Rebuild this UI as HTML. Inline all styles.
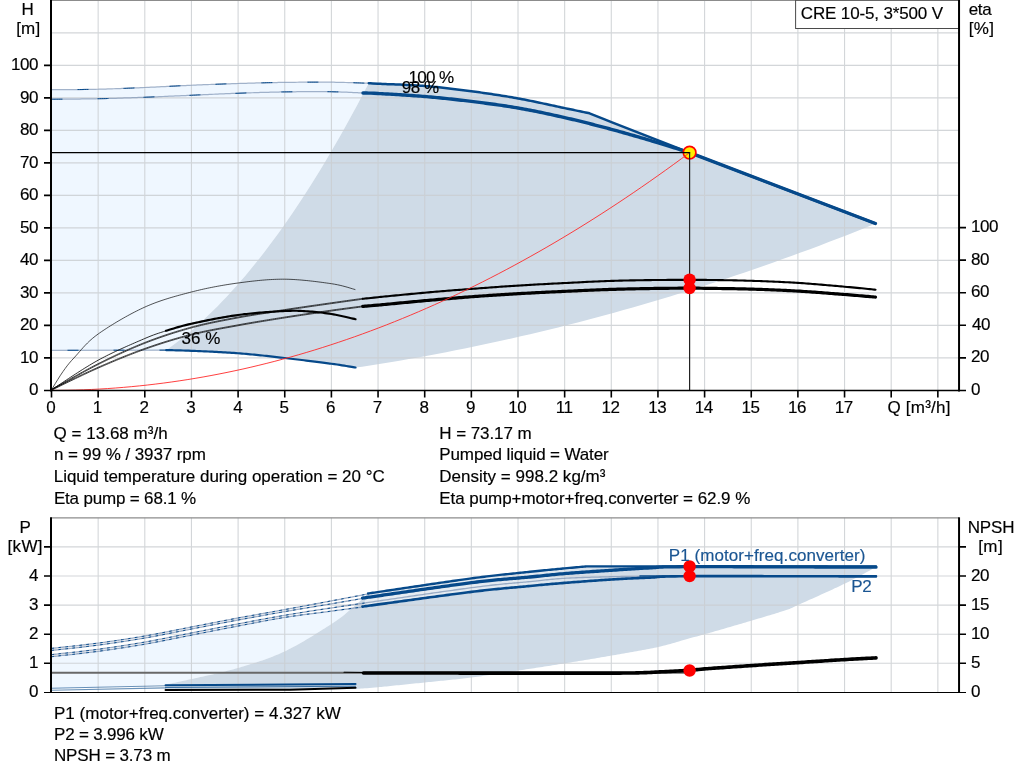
<!DOCTYPE html>
<html lang="en">
<head>
<meta charset="utf-8">
<title>CRE 10-5 pump curve</title>
<style>
html,body{margin:0;padding:0;background:#fff;}
body{width:1024px;height:781px;overflow:hidden;}
svg{display:block;}
text{white-space:pre;}
</style>
</head>
<body>
<svg width="1024" height="781" viewBox="0 0 1024 781" font-family='"Liberation Sans", Arial, sans-serif' font-size="17" fill="#000">
<style>text{stroke:#000;stroke-width:0.22px;stroke-opacity:0.75;paint-order:stroke} text[fill]{stroke:#1a5592}</style>
<rect width="1024" height="781" fill="#fff"/>
<path d="M51.50 350.20 L51.50 89.75 L52.58 89.74 L53.83 89.73 L55.22 89.72 L56.75 89.71 L58.41 89.70 L60.19 89.69 L62.07 89.67 L64.05 89.66 L66.10 89.65 L68.24 89.63 L70.43 89.62 L72.67 89.60 L74.95 89.58 L77.26 89.56 L79.59 89.54 L81.92 89.51 L84.25 89.48 L86.56 89.45 L88.85 89.42 L91.10 89.38 L93.29 89.34 L95.43 89.30 L97.50 89.25 L99.53 89.20 L101.57 89.14 L103.61 89.09 L105.66 89.03 L107.71 88.96 L109.76 88.90 L111.82 88.83 L113.88 88.75 L115.94 88.68 L118.01 88.60 L120.08 88.52 L122.14 88.44 L124.21 88.36 L126.28 88.28 L128.34 88.19 L130.41 88.11 L132.47 88.02 L134.54 87.94 L136.60 87.85 L138.65 87.76 L140.71 87.67 L142.76 87.59 L144.80 87.50 L146.84 87.41 L148.88 87.32 L150.92 87.23 L152.95 87.13 L154.99 87.03 L157.02 86.94 L159.05 86.84 L161.08 86.73 L163.11 86.63 L165.13 86.53 L167.16 86.43 L169.18 86.32 L171.21 86.22 L173.23 86.12 L175.26 86.02 L177.28 85.91 L179.30 85.81 L181.33 85.72 L183.35 85.62 L185.37 85.52 L187.40 85.43 L189.42 85.34 L191.45 85.25 L193.48 85.16 L195.50 85.08 L197.53 84.99 L199.55 84.91 L201.57 84.82 L203.60 84.74 L205.62 84.66 L207.64 84.58 L209.67 84.50 L211.69 84.42 L213.71 84.34 L215.73 84.26 L217.76 84.19 L219.78 84.11 L221.80 84.04 L223.82 83.97 L225.85 83.90 L227.87 83.83 L229.90 83.76 L231.92 83.69 L233.95 83.63 L235.97 83.56 L238.00 83.50 L240.03 83.44 L242.06 83.38 L244.08 83.32 L246.11 83.26 L248.14 83.20 L250.17 83.14 L252.20 83.09 L254.23 83.03 L256.26 82.98 L258.29 82.93 L260.33 82.88 L262.36 82.83 L264.39 82.78 L266.42 82.73 L268.45 82.69 L270.48 82.65 L272.51 82.61 L274.55 82.57 L276.58 82.53 L278.61 82.49 L280.64 82.46 L282.67 82.43 L284.70 82.40 L286.74 82.37 L288.79 82.35 L290.86 82.32 L292.94 82.30 L295.03 82.27 L297.12 82.25 L299.21 82.23 L301.31 82.21 L303.41 82.20 L305.50 82.18 L307.59 82.17 L309.67 82.16 L311.75 82.15 L313.80 82.15 L315.85 82.14 L317.88 82.14 L319.88 82.14 L321.87 82.14 L323.83 82.15 L325.77 82.16 L327.68 82.17 L329.56 82.18 L331.40 82.20 L333.76 82.23 L336.17 82.27 L338.60 82.31 L341.05 82.37 L343.49 82.43 L345.93 82.50 L348.33 82.57 L350.69 82.64 L352.99 82.71 L355.22 82.79 L357.37 82.86 L359.41 82.93 L361.34 83.00 L363.14 83.06 L364.79 83.12 L366.29 83.17 L367.61 83.22 L368.75 83.25 L368.75 83.25 L366.85 86.68 L362.19 95.60 L357.52 104.39 L352.86 113.04 L348.19 121.56 L343.53 129.95 L338.86 138.20 L334.20 146.33 L329.53 154.31 L324.87 162.17 L320.20 169.89 L315.54 177.48 L310.87 184.94 L306.21 192.26 L301.54 199.46 L296.88 206.51 L292.21 213.44 L287.55 220.23 L282.88 226.89 L278.22 233.42 L273.55 239.81 L268.89 246.07 L264.22 252.20 L259.56 258.20 L254.89 264.06 L250.23 269.79 L245.56 275.38 L240.90 280.85 L236.23 286.18 L231.57 291.37 L226.90 296.44 L222.24 301.37 L217.57 306.17 L212.91 310.83 L208.24 315.37 L203.58 319.77 L198.91 324.03 L194.25 328.17 L189.58 332.17 L184.92 336.04 L180.25 339.77 L175.59 343.37 L170.92 346.84 L166.26 350.18 Z" fill="#eff7ff"/>
<path d="M166.26 350.18 L170.92 346.84 L175.59 343.37 L180.25 339.77 L184.92 336.04 L189.58 332.17 L194.25 328.17 L198.91 324.03 L203.58 319.77 L208.24 315.37 L212.91 310.83 L217.57 306.17 L222.24 301.37 L226.90 296.44 L231.57 291.37 L236.23 286.18 L240.90 280.85 L245.56 275.38 L250.23 269.79 L254.89 264.06 L259.56 258.20 L264.22 252.20 L268.89 246.07 L273.55 239.81 L278.22 233.42 L282.88 226.89 L287.55 220.23 L292.21 213.44 L296.88 206.51 L301.54 199.46 L306.21 192.26 L310.87 184.94 L315.54 177.48 L320.20 169.89 L324.87 162.17 L329.53 154.31 L334.20 146.33 L338.86 138.20 L343.53 129.95 L348.19 121.56 L352.86 113.04 L357.52 104.39 L362.19 95.60 L366.85 86.68 L368.75 83.25 L369.53 83.30 L370.46 83.36 L372.84 83.49 L378.00 83.75 L379.29 83.81 L380.70 83.87 L382.24 83.93 L383.90 84.00 L385.66 84.07 L387.52 84.14 L389.46 84.21 L391.48 84.28 L393.56 84.36 L395.71 84.45 L397.90 84.53 L400.13 84.62 L402.40 84.72 L404.68 84.82 L406.98 84.93 L409.28 85.04 L411.58 85.16 L413.86 85.28 L416.11 85.41 L418.33 85.55 L420.51 85.69 L422.64 85.84 L424.70 86.00 L426.73 86.17 L428.76 86.34 L430.79 86.52 L432.82 86.71 L434.84 86.91 L436.87 87.11 L438.90 87.32 L440.93 87.53 L442.96 87.75 L444.99 87.97 L447.01 88.20 L449.04 88.44 L451.07 88.68 L453.10 88.92 L455.13 89.17 L457.15 89.42 L459.18 89.67 L461.21 89.93 L463.24 90.19 L465.27 90.45 L467.29 90.71 L469.32 90.98 L471.35 91.25 L473.38 91.52 L475.41 91.79 L477.43 92.07 L479.46 92.35 L481.49 92.63 L483.52 92.92 L485.55 93.20 L487.58 93.50 L489.60 93.79 L491.63 94.09 L493.66 94.39 L495.69 94.70 L497.72 95.01 L499.75 95.33 L501.77 95.65 L503.80 95.97 L505.83 96.31 L507.86 96.64 L509.89 96.98 L511.92 97.33 L513.94 97.68 L515.97 98.04 L518.00 98.40 L520.05 98.78 L522.13 99.17 L524.25 99.57 L526.39 99.99 L528.54 100.42 L530.72 100.86 L532.90 101.31 L535.09 101.76 L537.27 102.22 L539.45 102.68 L541.61 103.14 L543.76 103.60 L545.88 104.06 L547.98 104.51 L550.04 104.96 L552.06 105.40 L554.03 105.83 L555.96 106.24 L557.83 106.65 L559.64 107.04 L561.38 107.41 L563.06 107.77 L564.65 108.10 L567.56 108.71 L570.34 109.29 L572.98 109.84 L575.47 110.36 L577.81 110.85 L579.99 111.31 L582.01 111.73 L583.86 112.12 L585.55 112.47 L587.05 112.79 L588.37 113.06 L589.50 113.30 L604.00 119.10 L611.40 122.10 L657.50 140.10 L689.60 152.70 L875.40 223.50 L875.34 223.76 L866.01 227.52 L856.68 231.23 L847.35 234.90 L838.02 238.52 L828.69 242.10 L819.36 245.64 L810.03 249.14 L800.70 252.59 L791.37 256.00 L782.04 259.37 L772.71 262.70 L763.38 265.98 L754.05 269.22 L744.72 272.42 L735.39 275.57 L726.06 278.68 L716.73 281.75 L707.40 284.78 L698.07 287.76 L688.74 290.70 L679.41 293.60 L670.08 296.46 L660.75 299.27 L651.42 302.04 L642.09 304.76 L632.76 307.45 L623.43 310.09 L614.10 312.69 L604.77 315.25 L595.44 317.76 L586.11 320.23 L576.78 322.66 L567.45 325.04 L558.12 327.38 L548.79 329.68 L539.46 331.94 L530.13 334.16 L520.80 336.33 L511.47 338.46 L502.14 340.54 L492.81 342.58 L483.48 344.59 L474.15 346.54 L464.82 348.46 L455.49 350.33 L446.16 352.16 L436.83 353.95 L427.50 355.69 L418.17 357.39 L408.84 359.05 L399.51 360.67 L390.18 362.24 L380.85 363.77 L371.52 365.26 L362.19 366.70 L355.50 367.50 L355.50 367.50 L354.41 367.33 L353.14 367.12 L351.70 366.87 L350.09 366.60 L348.31 366.30 L346.37 365.98 L344.26 365.64 L342.00 365.29 L339.58 364.92 L337.00 364.53 L334.28 364.14 L331.40 363.75 L329.82 363.54 L328.16 363.32 L326.42 363.09 L324.62 362.86 L322.75 362.61 L320.83 362.37 L318.85 362.12 L316.83 361.86 L314.76 361.60 L312.67 361.34 L310.54 361.07 L308.38 360.80 L306.21 360.54 L304.03 360.27 L301.84 360.00 L299.64 359.74 L297.45 359.48 L295.27 359.22 L293.10 358.97 L290.96 358.72 L288.84 358.47 L286.75 358.23 L284.70 358.00 L282.67 357.77 L280.64 357.54 L278.61 357.31 L276.58 357.09 L274.55 356.86 L272.51 356.63 L270.48 356.41 L268.45 356.18 L266.42 355.96 L264.39 355.74 L262.36 355.53 L260.33 355.31 L258.29 355.10 L256.26 354.90 L254.23 354.69 L252.20 354.49 L250.17 354.30 L248.14 354.11 L246.11 353.93 L244.08 353.75 L242.06 353.58 L240.03 353.41 L238.00 353.25 L235.95 353.10 L233.87 352.95 L231.76 352.80 L229.63 352.67 L227.48 352.53 L225.31 352.40 L223.13 352.28 L220.96 352.16 L218.78 352.04 L216.61 351.93 L214.45 351.82 L212.31 351.72 L210.20 351.62 L208.11 351.52 L206.06 351.43 L204.04 351.34 L202.07 351.26 L200.15 351.17 L198.28 351.09 L196.47 351.02 L194.72 350.94 L193.05 350.87 L191.45 350.80 L188.52 350.68 L185.72 350.57 L183.06 350.49 L180.54 350.41 L178.16 350.35 L175.94 350.30 L173.88 350.25 L171.99 350.22 L170.28 350.18 L168.74 350.16 L167.40 350.13 L166.25 350.10 Z" fill="#cfdbe7" fill-opacity="1.0"/>
<path d="M98.15 0.50V390.40M144.80 0.50V390.40M191.45 0.50V390.40M238.10 0.50V390.40M284.75 0.50V390.40M331.40 0.50V390.40M378.05 0.50V390.40M424.70 0.50V390.40M471.35 0.50V390.40M518.00 0.50V390.40M564.65 0.50V390.40M611.30 0.50V390.40M657.95 0.50V390.40M704.60 0.50V390.40M751.25 0.50V390.40M797.90 0.50V390.40M844.55 0.50V390.40M891.20 0.50V390.40M937.85 0.50V390.40M51.50 357.90H959.00M51.50 325.40H959.00M51.50 292.90H959.00M51.50 260.40H959.00M51.50 227.90H959.00M51.50 195.40H959.00M51.50 162.90H959.00M51.50 130.40H959.00M51.50 97.90H959.00M51.50 65.40H959.00M51.50 32.90H959.00" stroke="#c9cdd1" stroke-opacity="0.82" stroke-width="1.1" fill="none"/>
<path d="M51.50 0.4H959.00" stroke="#8c8c8c" stroke-width="1.2"/>
<g fill="none" stroke="#06498a" stroke-linecap="round" stroke-linejoin="round">
<path d="M51.50 89.75 L52.58 89.74 L53.83 89.73 L55.22 89.72 L56.75 89.71 L58.41 89.70 L60.19 89.69 L62.07 89.67 L64.05 89.66 L66.10 89.65 L68.24 89.63 L70.43 89.62 L72.67 89.60 L74.95 89.58 L77.26 89.56 L79.59 89.54 L81.92 89.51 L84.25 89.48 L86.56 89.45 L88.85 89.42 L91.10 89.38 L93.29 89.34 L95.43 89.30 L97.50 89.25 L99.53 89.20 L101.57 89.14 L103.61 89.09 L105.66 89.03 L107.71 88.96 L109.76 88.90 L111.82 88.83 L113.88 88.75 L115.94 88.68 L118.01 88.60 L120.08 88.52 L122.14 88.44 L124.21 88.36 L126.28 88.28 L128.34 88.19 L130.41 88.11 L132.47 88.02 L134.54 87.94 L136.60 87.85 L138.65 87.76 L140.71 87.67 L142.76 87.59 L144.80 87.50 L146.84 87.41 L148.88 87.32 L150.92 87.23 L152.95 87.13 L154.99 87.03 L157.02 86.94 L159.05 86.84 L161.08 86.73 L163.11 86.63 L165.13 86.53 L167.16 86.43 L169.18 86.32 L171.21 86.22 L173.23 86.12 L175.26 86.02 L177.28 85.91 L179.30 85.81 L181.33 85.72 L183.35 85.62 L185.37 85.52 L187.40 85.43 L189.42 85.34 L191.45 85.25 L193.48 85.16 L195.50 85.08 L197.53 84.99 L199.55 84.91 L201.57 84.82 L203.60 84.74 L205.62 84.66 L207.64 84.58 L209.67 84.50 L211.69 84.42 L213.71 84.34 L215.73 84.26 L217.76 84.19 L219.78 84.11 L221.80 84.04 L223.82 83.97 L225.85 83.90 L227.87 83.83 L229.90 83.76 L231.92 83.69 L233.95 83.63 L235.97 83.56 L238.00 83.50 L240.03 83.44 L242.06 83.38 L244.08 83.32 L246.11 83.26 L248.14 83.20 L250.17 83.14 L252.20 83.09 L254.23 83.03 L256.26 82.98 L258.29 82.93 L260.33 82.88 L262.36 82.83 L264.39 82.78 L266.42 82.73 L268.45 82.69 L270.48 82.65 L272.51 82.61 L274.55 82.57 L276.58 82.53 L278.61 82.49 L280.64 82.46 L282.67 82.43 L284.70 82.40 L286.74 82.37 L288.79 82.35 L290.86 82.32 L292.94 82.30 L295.03 82.27 L297.12 82.25 L299.21 82.23 L301.31 82.21 L303.41 82.20 L305.50 82.18 L307.59 82.17 L309.67 82.16 L311.75 82.15 L313.80 82.15 L315.85 82.14 L317.88 82.14 L319.88 82.14 L321.87 82.14 L323.83 82.15 L325.77 82.16 L327.68 82.17 L329.56 82.18 L331.40 82.20 L333.76 82.23 L336.17 82.27 L338.60 82.31 L341.05 82.37 L343.49 82.43 L345.93 82.50 L348.33 82.57 L350.69 82.64 L352.99 82.71 L355.22 82.79 L357.37 82.86 L359.41 82.93 L361.34 83.00 L363.14 83.06 L364.79 83.12 L366.29 83.17 L367.61 83.22 L368.75 83.25" stroke-width="1.25" stroke="#7f95b5" stroke-opacity="0.72"/>
<path d="M51.50 89.75 L52.58 89.74 L53.83 89.73 L55.22 89.72 L56.75 89.71 L58.41 89.70 L60.19 89.69 L62.07 89.67 L64.05 89.66 L66.10 89.65 L68.24 89.63 L70.43 89.62 L72.67 89.60 L74.95 89.58 L77.26 89.56 L79.59 89.54 L81.92 89.51 L84.25 89.48 L86.56 89.45 L88.85 89.42 L91.10 89.38 L93.29 89.34 L95.43 89.30 L97.50 89.25 L99.53 89.20 L101.57 89.14 L103.61 89.09 L105.66 89.03 L107.71 88.96 L109.76 88.90 L111.82 88.83 L113.88 88.75 L115.94 88.68 L118.01 88.60 L120.08 88.52 L122.14 88.44 L124.21 88.36 L126.28 88.28 L128.34 88.19 L130.41 88.11 L132.47 88.02 L134.54 87.94 L136.60 87.85 L138.65 87.76 L140.71 87.67 L142.76 87.59 L144.80 87.50 L146.84 87.41 L148.88 87.32 L150.92 87.23 L152.95 87.13 L154.99 87.03 L157.02 86.94 L159.05 86.84 L161.08 86.73 L163.11 86.63 L165.13 86.53 L167.16 86.43 L169.18 86.32 L171.21 86.22 L173.23 86.12 L175.26 86.02 L177.28 85.91 L179.30 85.81 L181.33 85.72 L183.35 85.62 L185.37 85.52 L187.40 85.43 L189.42 85.34 L191.45 85.25 L193.48 85.16 L195.50 85.08 L197.53 84.99 L199.55 84.91 L201.57 84.82 L203.60 84.74 L205.62 84.66 L207.64 84.58 L209.67 84.50 L211.69 84.42 L213.71 84.34 L215.73 84.26 L217.76 84.19 L219.78 84.11 L221.80 84.04 L223.82 83.97 L225.85 83.90 L227.87 83.83 L229.90 83.76 L231.92 83.69 L233.95 83.63 L235.97 83.56 L238.00 83.50 L240.03 83.44 L242.06 83.38 L244.08 83.32 L246.11 83.26 L248.14 83.20 L250.17 83.14 L252.20 83.09 L254.23 83.03 L256.26 82.98 L258.29 82.93 L260.33 82.88 L262.36 82.83 L264.39 82.78 L266.42 82.73 L268.45 82.69 L270.48 82.65 L272.51 82.61 L274.55 82.57 L276.58 82.53 L278.61 82.49 L280.64 82.46 L282.67 82.43 L284.70 82.40 L286.74 82.37 L288.79 82.35 L290.86 82.32 L292.94 82.30 L295.03 82.27 L297.12 82.25 L299.21 82.23 L301.31 82.21 L303.41 82.20 L305.50 82.18 L307.59 82.17 L309.67 82.16 L311.75 82.15 L313.80 82.15 L315.85 82.14 L317.88 82.14 L319.88 82.14 L321.87 82.14 L323.83 82.15 L325.77 82.16 L327.68 82.17 L329.56 82.18 L331.40 82.20 L333.76 82.23 L336.17 82.27 L338.60 82.31 L341.05 82.37 L343.49 82.43 L345.93 82.50 L348.33 82.57 L350.69 82.64 L352.99 82.71 L355.22 82.79 L357.37 82.86 L359.41 82.93 L361.34 83.00 L363.14 83.06 L364.79 83.12 L366.29 83.17 L367.61 83.22 L368.75 83.25" stroke-width="1" stroke-dasharray="11 35" stroke-dashoffset="20" stroke-linecap="butt"/>
<path d="M51.50 99.25 L52.58 99.24 L53.83 99.23 L55.22 99.22 L56.75 99.21 L58.41 99.19 L60.19 99.18 L62.07 99.17 L64.05 99.15 L66.10 99.14 L68.24 99.12 L70.43 99.10 L72.67 99.08 L74.95 99.06 L77.26 99.04 L79.59 99.02 L81.92 98.99 L84.25 98.96 L86.56 98.93 L88.85 98.90 L91.10 98.87 L93.29 98.83 L95.43 98.79 L97.50 98.75 L99.53 98.71 L101.57 98.66 L103.61 98.61 L105.66 98.55 L107.71 98.50 L109.76 98.44 L111.82 98.38 L113.88 98.32 L115.94 98.26 L118.01 98.19 L120.08 98.13 L122.14 98.06 L124.21 97.99 L126.28 97.92 L128.34 97.85 L130.41 97.78 L132.47 97.70 L134.54 97.63 L136.60 97.55 L138.65 97.48 L140.71 97.40 L142.76 97.33 L144.80 97.25 L146.84 97.17 L148.88 97.09 L150.92 97.01 L152.95 96.93 L154.99 96.85 L157.02 96.76 L159.05 96.68 L161.08 96.59 L163.11 96.50 L165.13 96.42 L167.16 96.33 L169.18 96.24 L171.21 96.15 L173.23 96.06 L175.26 95.97 L177.28 95.87 L179.30 95.78 L181.33 95.69 L183.35 95.60 L185.37 95.51 L187.40 95.43 L189.42 95.34 L191.45 95.25 L193.48 95.16 L195.50 95.07 L197.53 94.98 L199.55 94.89 L201.57 94.80 L203.60 94.71 L205.62 94.62 L207.64 94.53 L209.67 94.44 L211.69 94.35 L213.71 94.25 L215.73 94.16 L217.76 94.07 L219.78 93.99 L221.80 93.90 L223.82 93.81 L225.85 93.73 L227.87 93.64 L229.90 93.56 L231.92 93.48 L233.95 93.40 L235.97 93.32 L238.00 93.25 L240.03 93.18 L242.06 93.10 L244.08 93.03 L246.11 92.96 L248.14 92.89 L250.17 92.82 L252.20 92.75 L254.23 92.69 L256.26 92.62 L258.29 92.55 L260.33 92.49 L262.36 92.43 L264.39 92.37 L266.42 92.31 L268.45 92.26 L270.48 92.20 L272.51 92.15 L274.55 92.10 L276.58 92.06 L278.61 92.01 L280.64 91.97 L282.67 91.93 L284.70 91.90 L286.74 91.87 L288.81 91.84 L290.90 91.81 L293.01 91.79 L295.13 91.76 L297.26 91.74 L299.40 91.72 L301.54 91.70 L303.68 91.69 L305.81 91.68 L307.94 91.67 L310.05 91.66 L312.14 91.65 L314.22 91.65 L316.27 91.65 L318.30 91.65 L320.29 91.66 L322.25 91.67 L324.17 91.68 L326.05 91.69 L327.89 91.71 L329.67 91.73 L331.40 91.75 L334.01 91.80 L336.61 91.86 L339.19 91.93 L341.73 92.02 L344.22 92.11 L346.64 92.21 L348.98 92.31 L351.23 92.42 L353.36 92.52 L355.37 92.62 L357.23 92.72 L358.94 92.81 L360.49 92.89 L361.84 92.95 L363.00 93.00" stroke-width="1.25" stroke="#7f95b5" stroke-opacity="0.72"/>
<path d="M51.50 99.25 L52.58 99.24 L53.83 99.23 L55.22 99.22 L56.75 99.21 L58.41 99.19 L60.19 99.18 L62.07 99.17 L64.05 99.15 L66.10 99.14 L68.24 99.12 L70.43 99.10 L72.67 99.08 L74.95 99.06 L77.26 99.04 L79.59 99.02 L81.92 98.99 L84.25 98.96 L86.56 98.93 L88.85 98.90 L91.10 98.87 L93.29 98.83 L95.43 98.79 L97.50 98.75 L99.53 98.71 L101.57 98.66 L103.61 98.61 L105.66 98.55 L107.71 98.50 L109.76 98.44 L111.82 98.38 L113.88 98.32 L115.94 98.26 L118.01 98.19 L120.08 98.13 L122.14 98.06 L124.21 97.99 L126.28 97.92 L128.34 97.85 L130.41 97.78 L132.47 97.70 L134.54 97.63 L136.60 97.55 L138.65 97.48 L140.71 97.40 L142.76 97.33 L144.80 97.25 L146.84 97.17 L148.88 97.09 L150.92 97.01 L152.95 96.93 L154.99 96.85 L157.02 96.76 L159.05 96.68 L161.08 96.59 L163.11 96.50 L165.13 96.42 L167.16 96.33 L169.18 96.24 L171.21 96.15 L173.23 96.06 L175.26 95.97 L177.28 95.87 L179.30 95.78 L181.33 95.69 L183.35 95.60 L185.37 95.51 L187.40 95.43 L189.42 95.34 L191.45 95.25 L193.48 95.16 L195.50 95.07 L197.53 94.98 L199.55 94.89 L201.57 94.80 L203.60 94.71 L205.62 94.62 L207.64 94.53 L209.67 94.44 L211.69 94.35 L213.71 94.25 L215.73 94.16 L217.76 94.07 L219.78 93.99 L221.80 93.90 L223.82 93.81 L225.85 93.73 L227.87 93.64 L229.90 93.56 L231.92 93.48 L233.95 93.40 L235.97 93.32 L238.00 93.25 L240.03 93.18 L242.06 93.10 L244.08 93.03 L246.11 92.96 L248.14 92.89 L250.17 92.82 L252.20 92.75 L254.23 92.69 L256.26 92.62 L258.29 92.55 L260.33 92.49 L262.36 92.43 L264.39 92.37 L266.42 92.31 L268.45 92.26 L270.48 92.20 L272.51 92.15 L274.55 92.10 L276.58 92.06 L278.61 92.01 L280.64 91.97 L282.67 91.93 L284.70 91.90 L286.74 91.87 L288.81 91.84 L290.90 91.81 L293.01 91.79 L295.13 91.76 L297.26 91.74 L299.40 91.72 L301.54 91.70 L303.68 91.69 L305.81 91.68 L307.94 91.67 L310.05 91.66 L312.14 91.65 L314.22 91.65 L316.27 91.65 L318.30 91.65 L320.29 91.66 L322.25 91.67 L324.17 91.68 L326.05 91.69 L327.89 91.71 L329.67 91.73 L331.40 91.75 L334.01 91.80 L336.61 91.86 L339.19 91.93 L341.73 92.02 L344.22 92.11 L346.64 92.21 L348.98 92.31 L351.23 92.42 L353.36 92.52 L355.37 92.62 L357.23 92.72 L358.94 92.81 L360.49 92.89 L361.84 92.95 L363.00 93.00" stroke-width="1" stroke-dasharray="11 35" stroke-dashoffset="0" stroke-linecap="butt"/>
<path d="M51.50 350.30 L166.25 350.10" stroke-width="1.25" stroke="#7f95b5" stroke-opacity="0.72"/>
<path d="M51.50 350.30 L166.25 350.10" stroke-width="1" stroke-dasharray="11 35" stroke-dashoffset="30" stroke-linecap="butt"/>
<path d="M368.75 83.25 L369.53 83.30 L370.46 83.36 L372.84 83.49 L378.00 83.75 L379.29 83.81 L380.70 83.87 L382.24 83.93 L383.90 84.00 L385.66 84.07 L387.52 84.14 L389.46 84.21 L391.48 84.28 L393.56 84.36 L395.71 84.45 L397.90 84.53 L400.13 84.62 L402.40 84.72 L404.68 84.82 L406.98 84.93 L409.28 85.04 L411.58 85.16 L413.86 85.28 L416.11 85.41 L418.33 85.55 L420.51 85.69 L422.64 85.84 L424.70 86.00 L426.73 86.17 L428.76 86.34 L430.79 86.52 L432.82 86.71 L434.84 86.91 L436.87 87.11 L438.90 87.32 L440.93 87.53 L442.96 87.75 L444.99 87.97 L447.01 88.20 L449.04 88.44 L451.07 88.68 L453.10 88.92 L455.13 89.17 L457.15 89.42 L459.18 89.67 L461.21 89.93 L463.24 90.19 L465.27 90.45 L467.29 90.71 L469.32 90.98 L471.35 91.25 L473.38 91.52 L475.41 91.79 L477.43 92.07 L479.46 92.35 L481.49 92.63 L483.52 92.92 L485.55 93.20 L487.58 93.50 L489.60 93.79 L491.63 94.09 L493.66 94.39 L495.69 94.70 L497.72 95.01 L499.75 95.33 L501.77 95.65 L503.80 95.97 L505.83 96.31 L507.86 96.64 L509.89 96.98 L511.92 97.33 L513.94 97.68 L515.97 98.04 L518.00 98.40 L520.05 98.78 L522.13 99.17 L524.25 99.57 L526.39 99.99 L528.54 100.42 L530.72 100.86 L532.90 101.31 L535.09 101.76 L537.27 102.22 L539.45 102.68 L541.61 103.14 L543.76 103.60 L545.88 104.06 L547.98 104.51 L550.04 104.96 L552.06 105.40 L554.03 105.83 L555.96 106.24 L557.83 106.65 L559.64 107.04 L561.38 107.41 L563.06 107.77 L564.65 108.10 L567.56 108.71 L570.34 109.29 L572.98 109.84 L575.47 110.36 L577.81 110.85 L579.99 111.31 L582.01 111.73 L583.86 112.12 L585.55 112.47 L587.05 112.79 L588.37 113.06 L589.50 113.30 L604.00 119.10 L611.40 122.10 L657.50 140.10 L689.60 152.70 L875.40 223.50" stroke-width="2.5"/>
<path d="M363.00 93.00 L364.08 93.02 L365.27 93.03 L366.72 93.05 L368.57 93.08 L370.97 93.16 L374.06 93.29 L378.00 93.50 L379.40 93.58 L380.91 93.66 L382.53 93.75 L384.24 93.85 L386.04 93.95 L387.92 94.06 L389.88 94.17 L391.90 94.28 L393.98 94.40 L396.11 94.53 L398.27 94.66 L400.48 94.79 L402.71 94.93 L404.95 95.07 L407.21 95.22 L409.47 95.37 L411.72 95.52 L413.96 95.68 L416.19 95.83 L418.38 96.00 L420.53 96.16 L422.64 96.33 L424.70 96.50 L426.73 96.67 L428.76 96.85 L430.79 97.03 L432.82 97.22 L434.84 97.41 L436.87 97.60 L438.90 97.80 L440.93 98.00 L442.96 98.20 L444.99 98.41 L447.01 98.62 L449.04 98.83 L451.07 99.05 L453.10 99.27 L455.13 99.49 L457.15 99.72 L459.18 99.95 L461.21 100.19 L463.24 100.42 L465.27 100.66 L467.29 100.91 L469.32 101.15 L471.35 101.40 L473.38 101.65 L475.41 101.90 L477.43 102.15 L479.46 102.41 L481.49 102.67 L483.52 102.93 L485.55 103.19 L487.58 103.45 L489.60 103.72 L491.63 103.99 L493.66 104.27 L495.69 104.55 L497.72 104.83 L499.75 105.12 L501.77 105.42 L503.80 105.72 L505.83 106.02 L507.86 106.33 L509.89 106.65 L511.92 106.98 L513.94 107.31 L515.97 107.65 L518.00 108.00 L520.03 108.36 L522.06 108.72 L524.09 109.09 L526.11 109.47 L528.14 109.85 L530.17 110.24 L532.20 110.63 L534.23 111.03 L536.26 111.44 L538.29 111.85 L540.31 112.27 L542.34 112.69 L544.37 113.12 L546.40 113.55 L548.43 113.99 L550.46 114.43 L552.48 114.87 L554.51 115.32 L556.54 115.77 L558.57 116.22 L560.60 116.68 L562.62 117.14 L564.65 117.60 L566.68 118.07 L568.71 118.54 L570.73 119.01 L572.76 119.49 L574.79 119.97 L576.82 120.46 L578.85 120.95 L580.88 121.45 L582.90 121.95 L584.93 122.46 L586.96 122.96 L588.99 123.47 L591.02 123.99 L593.04 124.51 L595.07 125.03 L597.09 125.55 L599.12 126.08 L601.14 126.61 L603.17 127.14 L605.19 127.68 L607.21 128.22 L609.23 128.76 L611.25 129.30 L613.28 129.85 L615.33 130.41 L617.40 130.98 L619.49 131.56 L621.59 132.14 L623.70 132.74 L625.81 133.33 L627.92 133.93 L630.03 134.54 L632.14 135.14 L634.24 135.75 L636.32 136.35 L638.39 136.95 L640.44 137.55 L642.47 138.15 L644.48 138.74 L646.45 139.32 L648.39 139.89 L650.30 140.46 L652.17 141.01 L653.99 141.55 L655.77 142.08 L657.50 142.60 L659.95 143.34 L662.41 144.08 L664.85 144.84 L667.27 145.59 L669.65 146.33 L671.98 147.07 L674.25 147.78 L676.44 148.48 L678.54 149.15 L680.54 149.79 L682.41 150.40 L684.16 150.96 L685.77 151.48 L687.22 151.94 L688.50 152.35 L689.60 152.70 L875.40 223.50" stroke-width="3.4"/>
<path d="M166.25 350.10 L167.40 350.13 L168.74 350.16 L170.28 350.18 L171.99 350.22 L173.88 350.25 L175.94 350.30 L178.16 350.35 L180.54 350.41 L183.06 350.49 L185.72 350.57 L188.52 350.68 L191.45 350.80 L193.05 350.87 L194.72 350.94 L196.47 351.02 L198.28 351.09 L200.15 351.17 L202.07 351.26 L204.04 351.34 L206.06 351.43 L208.11 351.52 L210.20 351.62 L212.31 351.72 L214.45 351.82 L216.61 351.93 L218.78 352.04 L220.96 352.16 L223.13 352.28 L225.31 352.40 L227.48 352.53 L229.63 352.67 L231.76 352.80 L233.87 352.95 L235.95 353.10 L238.00 353.25 L240.03 353.41 L242.06 353.58 L244.08 353.75 L246.11 353.93 L248.14 354.11 L250.17 354.30 L252.20 354.49 L254.23 354.69 L256.26 354.90 L258.29 355.10 L260.33 355.31 L262.36 355.53 L264.39 355.74 L266.42 355.96 L268.45 356.18 L270.48 356.41 L272.51 356.63 L274.55 356.86 L276.58 357.09 L278.61 357.31 L280.64 357.54 L282.67 357.77 L284.70 358.00 L286.75 358.23 L288.84 358.47 L290.96 358.72 L293.10 358.97 L295.27 359.22 L297.45 359.48 L299.64 359.74 L301.84 360.00 L304.03 360.27 L306.21 360.54 L308.38 360.80 L310.54 361.07 L312.67 361.34 L314.76 361.60 L316.83 361.86 L318.85 362.12 L320.83 362.37 L322.75 362.61 L324.62 362.86 L326.42 363.09 L328.16 363.32 L329.82 363.54 L331.40 363.75 L334.28 364.14 L337.00 364.53 L339.58 364.92 L342.00 365.29 L344.26 365.64 L346.37 365.98 L348.31 366.30 L350.09 366.60 L351.70 366.87 L353.14 367.12 L354.41 367.33 L355.50 367.50" stroke-width="2.2"/>
</g>
<g fill="none" stroke="#000" stroke-linecap="round" stroke-linejoin="round">
<path d="M51.50 389.80 L53.06 387.25 L55.26 383.62 L57.83 379.42 L60.50 375.21 L63.00 371.50 L65.16 368.49 L67.14 365.83 L69.23 363.23 L71.70 360.38 L74.80 357.00 L76.40 355.24 L78.03 353.39 L79.70 351.45 L81.46 349.43 L83.32 347.34 L85.31 345.20 L87.46 343.01 L89.79 340.78 L92.33 338.53 L95.11 336.27 L98.15 334.00 L99.71 332.90 L101.36 331.76 L103.09 330.60 L104.88 329.41 L106.74 328.19 L108.66 326.96 L110.63 325.72 L112.65 324.47 L114.72 323.21 L116.81 321.94 L118.94 320.68 L121.10 319.43 L123.27 318.18 L125.46 316.95 L127.65 315.74 L129.85 314.54 L132.04 313.37 L134.23 312.23 L136.40 311.13 L138.54 310.06 L140.66 309.02 L142.75 308.04 L144.80 307.10 L146.83 306.20 L148.86 305.34 L150.89 304.50 L152.91 303.70 L154.94 302.92 L156.97 302.17 L159.00 301.44 L161.03 300.73 L163.06 300.05 L165.09 299.39 L167.12 298.75 L169.15 298.12 L171.17 297.51 L173.20 296.92 L175.23 296.34 L177.26 295.77 L179.29 295.21 L181.32 294.66 L183.34 294.12 L185.37 293.58 L187.40 293.05 L189.42 292.52 L191.45 292.00 L193.48 291.48 L195.50 290.98 L197.53 290.49 L199.55 290.01 L201.57 289.54 L203.60 289.09 L205.62 288.64 L207.64 288.21 L209.67 287.79 L211.69 287.39 L213.71 286.99 L215.73 286.60 L217.76 286.23 L219.78 285.86 L221.80 285.51 L223.82 285.16 L225.85 284.82 L227.87 284.50 L229.90 284.18 L231.92 283.87 L233.95 283.57 L235.97 283.28 L238.00 283.00 L240.03 282.72 L242.06 282.45 L244.08 282.19 L246.11 281.93 L248.14 281.67 L250.17 281.43 L252.20 281.19 L254.23 280.97 L256.26 280.75 L258.29 280.54 L260.33 280.35 L262.36 280.17 L264.39 280.00 L266.42 279.84 L268.45 279.70 L270.48 279.58 L272.51 279.47 L274.55 279.38 L276.58 279.30 L278.61 279.25 L280.64 279.21 L282.67 279.20 L284.70 279.20 L286.75 279.23 L288.84 279.29 L290.96 279.37 L293.11 279.47 L295.28 279.60 L297.46 279.75 L299.66 279.92 L301.85 280.10 L304.05 280.30 L306.24 280.51 L308.41 280.73 L310.57 280.97 L312.70 281.21 L314.80 281.46 L316.87 281.71 L318.89 281.97 L320.86 282.22 L322.79 282.48 L324.65 282.74 L326.45 282.99 L328.18 283.23 L329.83 283.47 L331.40 283.70 L334.50 284.20 L337.42 284.75 L340.14 285.34 L342.68 285.96 L345.02 286.58 L347.17 287.18 L349.13 287.76 L350.89 288.30 L352.46 288.78 L353.83 289.19 L355.00 289.50" stroke-width="0.8" stroke-opacity="0.85"/>
<path d="M51.50 389.80 L52.60 389.09 L53.87 388.27 L55.28 387.34 L56.84 386.31 L58.54 385.19 L60.35 383.99 L62.26 382.72 L64.28 381.38 L66.37 379.99 L68.54 378.56 L70.77 377.10 L73.06 375.61 L75.38 374.10 L77.72 372.59 L80.08 371.08 L82.45 369.58 L84.81 368.10 L87.15 366.66 L89.45 365.25 L91.72 363.89 L93.93 362.59 L96.08 361.36 L98.15 360.20 L100.20 359.09 L102.29 357.98 L104.42 356.88 L106.58 355.78 L108.76 354.70 L110.96 353.62 L113.17 352.56 L115.38 351.52 L117.59 350.48 L119.79 349.47 L121.98 348.47 L124.15 347.50 L126.28 346.54 L128.39 345.61 L130.46 344.70 L132.48 343.82 L134.44 342.96 L136.35 342.14 L138.20 341.34 L139.97 340.58 L141.67 339.85 L143.28 339.16 L144.80 338.50 L148.05 337.13 L151.01 335.94 L153.70 334.92 L156.13 334.04 L158.32 333.29 L160.27 332.65 L162.00 332.10 L163.52 331.62 L164.85 331.20 L166.00 330.80" stroke-width="0.9" stroke-opacity="0.9"/>
<path transform="translate(0 -0.42)" d="M51.50 389.80 L52.60 389.19 L53.87 388.48 L55.28 387.68 L56.84 386.80 L58.54 385.84 L60.35 384.81 L62.26 383.73 L64.28 382.58 L66.37 381.40 L68.54 380.17 L70.77 378.91 L73.06 377.63 L75.38 376.33 L77.72 375.03 L80.08 373.72 L82.45 372.42 L84.81 371.13 L87.15 369.86 L89.45 368.62 L91.72 367.42 L93.93 366.26 L96.08 365.15 L98.15 364.10 L100.18 363.08 L102.21 362.07 L104.23 361.07 L106.26 360.07 L108.29 359.08 L110.32 358.10 L112.35 357.13 L114.38 356.16 L116.40 355.21 L118.43 354.26 L120.46 353.32 L122.49 352.39 L124.52 351.47 L126.55 350.57 L128.57 349.67 L130.60 348.78 L132.63 347.90 L134.66 347.04 L136.69 346.19 L138.72 345.35 L140.74 344.52 L142.77 343.70 L144.80 342.90 L146.83 342.11 L148.86 341.33 L150.89 340.57 L152.91 339.81 L154.94 339.07 L156.97 338.33 L159.00 337.61 L161.03 336.90 L163.06 336.20 L165.09 335.51 L167.12 334.84 L169.15 334.17 L171.17 333.51 L173.20 332.86 L175.23 332.23 L177.26 331.60 L179.29 330.99 L181.32 330.38 L183.34 329.79 L185.37 329.20 L187.40 328.62 L189.42 328.06 L191.45 327.50 L193.48 326.96 L195.50 326.43 L197.53 325.91 L199.55 325.41 L201.57 324.92 L203.60 324.44 L205.62 323.98 L207.64 323.52 L209.67 323.08 L211.69 322.64 L213.71 322.22 L215.73 321.80 L217.76 321.39 L219.78 320.98 L221.80 320.58 L223.82 320.19 L225.85 319.79 L227.87 319.41 L229.90 319.02 L231.92 318.64 L233.95 318.26 L235.97 317.88 L238.00 317.50 L240.03 317.12 L242.06 316.75 L244.08 316.39 L246.11 316.04 L248.14 315.69 L250.17 315.35 L252.20 315.01 L254.23 314.68 L256.26 314.35 L258.29 314.03 L260.33 313.71 L262.36 313.39 L264.39 313.08 L266.42 312.77 L268.45 312.46 L270.48 312.15 L272.51 311.84 L274.55 311.54 L276.58 311.23 L278.61 310.93 L280.64 310.62 L282.67 310.31 L284.70 310.00 L286.74 309.69 L288.81 309.38 L290.91 309.06 L293.01 308.75 L295.14 308.43 L297.27 308.12 L299.41 307.80 L301.55 307.49 L303.69 307.18 L305.83 306.87 L307.95 306.56 L310.07 306.25 L312.17 305.95 L314.24 305.65 L316.30 305.36 L318.32 305.07 L320.31 304.79 L322.27 304.51 L324.19 304.23 L326.07 303.96 L327.90 303.70 L329.68 303.45 L331.40 303.20 L334.00 302.83 L336.59 302.46 L339.15 302.10 L341.67 301.74 L344.13 301.39 L346.53 301.06 L348.85 300.73 L351.07 300.42 L353.17 300.13 L355.16 299.85 L357.00 299.60 L358.69 299.36 L360.21 299.15 L361.55 298.96 L362.70 298.80" stroke-width="0.72"/>
<path transform="translate(0 -0.42)" d="M51.50 389.80 L52.60 389.28 L53.87 388.67 L55.28 387.98 L56.84 387.23 L58.54 386.41 L60.35 385.53 L62.26 384.60 L64.28 383.62 L66.37 382.60 L68.54 381.55 L70.77 380.47 L73.06 379.37 L75.38 378.26 L77.72 377.14 L80.08 376.01 L82.45 374.90 L84.81 373.79 L87.15 372.69 L89.45 371.62 L91.72 370.58 L93.93 369.58 L96.08 368.62 L98.15 367.70 L100.18 366.81 L102.21 365.93 L104.23 365.05 L106.26 364.18 L108.29 363.31 L110.32 362.45 L112.35 361.59 L114.38 360.74 L116.40 359.89 L118.43 359.06 L120.46 358.23 L122.49 357.40 L124.52 356.59 L126.55 355.78 L128.57 354.98 L130.60 354.18 L132.63 353.40 L134.66 352.63 L136.69 351.86 L138.72 351.11 L140.74 350.36 L142.77 349.62 L144.80 348.90 L146.83 348.18 L148.86 347.48 L150.89 346.78 L152.91 346.08 L154.94 345.40 L156.97 344.72 L159.00 344.06 L161.03 343.40 L163.06 342.75 L165.09 342.10 L167.12 341.47 L169.15 340.85 L171.17 340.23 L173.20 339.62 L175.23 339.03 L177.26 338.44 L179.29 337.86 L181.32 337.29 L183.34 336.73 L185.37 336.19 L187.40 335.65 L189.42 335.12 L191.45 334.60 L193.48 334.09 L195.50 333.60 L197.53 333.13 L199.55 332.67 L201.57 332.22 L203.60 331.78 L205.62 331.35 L207.64 330.94 L209.67 330.53 L211.69 330.13 L213.71 329.74 L215.73 329.35 L217.76 328.97 L219.78 328.60 L221.80 328.23 L223.82 327.86 L225.85 327.49 L227.87 327.13 L229.90 326.77 L231.92 326.40 L233.95 326.04 L235.97 325.67 L238.00 325.30 L240.03 324.93 L242.06 324.56 L244.08 324.20 L246.11 323.84 L248.14 323.49 L250.17 323.14 L252.20 322.79 L254.23 322.44 L256.26 322.10 L258.29 321.76 L260.33 321.42 L262.36 321.08 L264.39 320.75 L266.42 320.42 L268.45 320.09 L270.48 319.76 L272.51 319.43 L274.55 319.11 L276.58 318.78 L278.61 318.46 L280.64 318.14 L282.67 317.82 L284.70 317.50 L286.74 317.18 L288.81 316.86 L290.91 316.54 L293.01 316.21 L295.14 315.89 L297.27 315.57 L299.41 315.25 L301.55 314.93 L303.69 314.61 L305.83 314.29 L307.95 313.98 L310.07 313.67 L312.17 313.36 L314.24 313.06 L316.30 312.76 L318.32 312.47 L320.31 312.18 L322.27 311.90 L324.19 311.63 L326.07 311.36 L327.90 311.10 L329.68 310.85 L331.40 310.60 L334.00 310.23 L336.59 309.87 L339.15 309.52 L341.67 309.18 L344.13 308.84 L346.53 308.52 L348.85 308.22 L351.07 307.92 L353.17 307.65 L355.16 307.39 L357.00 307.15 L358.69 306.93 L360.21 306.73 L361.55 306.55 L362.70 306.40" stroke-width="0.72"/>
<path transform="translate(0 0.42)" d="M51.50 389.80 L52.60 389.19 L53.87 388.48 L55.28 387.68 L56.84 386.80 L58.54 385.84 L60.35 384.81 L62.26 383.73 L64.28 382.58 L66.37 381.40 L68.54 380.17 L70.77 378.91 L73.06 377.63 L75.38 376.33 L77.72 375.03 L80.08 373.72 L82.45 372.42 L84.81 371.13 L87.15 369.86 L89.45 368.62 L91.72 367.42 L93.93 366.26 L96.08 365.15 L98.15 364.10 L100.18 363.08 L102.21 362.07 L104.23 361.07 L106.26 360.07 L108.29 359.08 L110.32 358.10 L112.35 357.13 L114.38 356.16 L116.40 355.21 L118.43 354.26 L120.46 353.32 L122.49 352.39 L124.52 351.47 L126.55 350.57 L128.57 349.67 L130.60 348.78 L132.63 347.90 L134.66 347.04 L136.69 346.19 L138.72 345.35 L140.74 344.52 L142.77 343.70 L144.80 342.90 L146.83 342.11 L148.86 341.33 L150.89 340.57 L152.91 339.81 L154.94 339.07 L156.97 338.33 L159.00 337.61 L161.03 336.90 L163.06 336.20 L165.09 335.51 L167.12 334.84 L169.15 334.17 L171.17 333.51 L173.20 332.86 L175.23 332.23 L177.26 331.60 L179.29 330.99 L181.32 330.38 L183.34 329.79 L185.37 329.20 L187.40 328.62 L189.42 328.06 L191.45 327.50 L193.48 326.96 L195.50 326.43 L197.53 325.91 L199.55 325.41 L201.57 324.92 L203.60 324.44 L205.62 323.98 L207.64 323.52 L209.67 323.08 L211.69 322.64 L213.71 322.22 L215.73 321.80 L217.76 321.39 L219.78 320.98 L221.80 320.58 L223.82 320.19 L225.85 319.79 L227.87 319.41 L229.90 319.02 L231.92 318.64 L233.95 318.26 L235.97 317.88 L238.00 317.50 L240.03 317.12 L242.06 316.75 L244.08 316.39 L246.11 316.04 L248.14 315.69 L250.17 315.35 L252.20 315.01 L254.23 314.68 L256.26 314.35 L258.29 314.03 L260.33 313.71 L262.36 313.39 L264.39 313.08 L266.42 312.77 L268.45 312.46 L270.48 312.15 L272.51 311.84 L274.55 311.54 L276.58 311.23 L278.61 310.93 L280.64 310.62 L282.67 310.31 L284.70 310.00 L286.74 309.69 L288.81 309.38 L290.91 309.06 L293.01 308.75 L295.14 308.43 L297.27 308.12 L299.41 307.80 L301.55 307.49 L303.69 307.18 L305.83 306.87 L307.95 306.56 L310.07 306.25 L312.17 305.95 L314.24 305.65 L316.30 305.36 L318.32 305.07 L320.31 304.79 L322.27 304.51 L324.19 304.23 L326.07 303.96 L327.90 303.70 L329.68 303.45 L331.40 303.20 L334.00 302.83 L336.59 302.46 L339.15 302.10 L341.67 301.74 L344.13 301.39 L346.53 301.06 L348.85 300.73 L351.07 300.42 L353.17 300.13 L355.16 299.85 L357.00 299.60 L358.69 299.36 L360.21 299.15 L361.55 298.96 L362.70 298.80" stroke-width="0.72"/>
<path transform="translate(0 0.42)" d="M51.50 389.80 L52.60 389.28 L53.87 388.67 L55.28 387.98 L56.84 387.23 L58.54 386.41 L60.35 385.53 L62.26 384.60 L64.28 383.62 L66.37 382.60 L68.54 381.55 L70.77 380.47 L73.06 379.37 L75.38 378.26 L77.72 377.14 L80.08 376.01 L82.45 374.90 L84.81 373.79 L87.15 372.69 L89.45 371.62 L91.72 370.58 L93.93 369.58 L96.08 368.62 L98.15 367.70 L100.18 366.81 L102.21 365.93 L104.23 365.05 L106.26 364.18 L108.29 363.31 L110.32 362.45 L112.35 361.59 L114.38 360.74 L116.40 359.89 L118.43 359.06 L120.46 358.23 L122.49 357.40 L124.52 356.59 L126.55 355.78 L128.57 354.98 L130.60 354.18 L132.63 353.40 L134.66 352.63 L136.69 351.86 L138.72 351.11 L140.74 350.36 L142.77 349.62 L144.80 348.90 L146.83 348.18 L148.86 347.48 L150.89 346.78 L152.91 346.08 L154.94 345.40 L156.97 344.72 L159.00 344.06 L161.03 343.40 L163.06 342.75 L165.09 342.10 L167.12 341.47 L169.15 340.85 L171.17 340.23 L173.20 339.62 L175.23 339.03 L177.26 338.44 L179.29 337.86 L181.32 337.29 L183.34 336.73 L185.37 336.19 L187.40 335.65 L189.42 335.12 L191.45 334.60 L193.48 334.09 L195.50 333.60 L197.53 333.13 L199.55 332.67 L201.57 332.22 L203.60 331.78 L205.62 331.35 L207.64 330.94 L209.67 330.53 L211.69 330.13 L213.71 329.74 L215.73 329.35 L217.76 328.97 L219.78 328.60 L221.80 328.23 L223.82 327.86 L225.85 327.49 L227.87 327.13 L229.90 326.77 L231.92 326.40 L233.95 326.04 L235.97 325.67 L238.00 325.30 L240.03 324.93 L242.06 324.56 L244.08 324.20 L246.11 323.84 L248.14 323.49 L250.17 323.14 L252.20 322.79 L254.23 322.44 L256.26 322.10 L258.29 321.76 L260.33 321.42 L262.36 321.08 L264.39 320.75 L266.42 320.42 L268.45 320.09 L270.48 319.76 L272.51 319.43 L274.55 319.11 L276.58 318.78 L278.61 318.46 L280.64 318.14 L282.67 317.82 L284.70 317.50 L286.74 317.18 L288.81 316.86 L290.91 316.54 L293.01 316.21 L295.14 315.89 L297.27 315.57 L299.41 315.25 L301.55 314.93 L303.69 314.61 L305.83 314.29 L307.95 313.98 L310.07 313.67 L312.17 313.36 L314.24 313.06 L316.30 312.76 L318.32 312.47 L320.31 312.18 L322.27 311.90 L324.19 311.63 L326.07 311.36 L327.90 311.10 L329.68 310.85 L331.40 310.60 L334.00 310.23 L336.59 309.87 L339.15 309.52 L341.67 309.18 L344.13 308.84 L346.53 308.52 L348.85 308.22 L351.07 307.92 L353.17 307.65 L355.16 307.39 L357.00 307.15 L358.69 306.93 L360.21 306.73 L361.55 306.55 L362.70 306.40" stroke-width="0.72"/>
<path d="M166.00 330.80 L167.16 330.46 L168.52 330.05 L170.08 329.56 L171.82 329.02 L173.73 328.43 L175.82 327.79 L178.06 327.13 L180.46 326.45 L183.01 325.75 L185.69 325.06 L188.51 324.37 L191.45 323.70 L193.05 323.35 L194.73 322.99 L196.48 322.61 L198.29 322.22 L200.16 321.83 L202.09 321.43 L204.06 321.02 L206.07 320.61 L208.13 320.19 L210.22 319.78 L212.33 319.36 L214.47 318.95 L216.62 318.54 L218.79 318.14 L220.97 317.74 L223.14 317.35 L225.32 316.97 L227.48 316.61 L229.63 316.25 L231.76 315.91 L233.87 315.59 L235.95 315.29 L238.00 315.00 L240.05 314.73 L242.14 314.47 L244.26 314.21 L246.41 313.97 L248.57 313.74 L250.76 313.51 L252.96 313.29 L255.16 313.09 L257.35 312.89 L259.54 312.70 L261.72 312.52 L263.88 312.35 L266.01 312.18 L268.12 312.03 L270.18 311.88 L272.21 311.74 L274.18 311.61 L276.10 311.49 L277.96 311.38 L279.76 311.27 L281.49 311.17 L283.13 311.08 L284.70 311.00 L287.70 310.86 L290.36 310.78 L292.74 310.73 L294.89 310.73 L296.87 310.76 L298.72 310.82 L300.50 310.91 L302.27 311.01 L304.07 311.13 L305.97 311.26 L308.00 311.40 L310.12 311.54 L312.24 311.70 L314.36 311.88 L316.47 312.07 L318.59 312.29 L320.71 312.52 L322.84 312.77 L324.96 313.04 L327.10 313.34 L329.25 313.66 L331.40 314.00 L333.46 314.36 L335.66 314.78 L337.94 315.24 L340.27 315.73 L342.61 316.25 L344.91 316.76 L347.13 317.27 L349.23 317.76 L351.15 318.20 L352.87 318.60 L354.33 318.94 L355.50 319.20" stroke-width="2.2"/>
<path d="M362.70 298.80 L363.81 298.68 L365.04 298.54 L366.54 298.38 L368.44 298.17 L370.89 297.92 L374.03 297.59 L378.00 297.20 L379.41 297.06 L380.92 296.91 L382.54 296.75 L384.26 296.58 L386.06 296.40 L387.95 296.22 L389.90 296.02 L391.92 295.82 L394.00 295.62 L396.13 295.41 L398.29 295.19 L400.49 294.98 L402.72 294.76 L404.97 294.55 L407.22 294.33 L409.48 294.11 L411.73 293.90 L413.97 293.69 L416.19 293.48 L418.38 293.27 L420.53 293.08 L422.64 292.88 L424.70 292.70 L426.73 292.52 L428.76 292.34 L430.79 292.17 L432.82 291.99 L434.84 291.82 L436.87 291.65 L438.90 291.48 L440.93 291.31 L442.96 291.14 L444.99 290.97 L447.01 290.81 L449.04 290.64 L451.07 290.48 L453.10 290.32 L455.13 290.16 L457.15 290.00 L459.18 289.84 L461.21 289.68 L463.24 289.52 L465.27 289.37 L467.29 289.21 L469.32 289.05 L471.35 288.90 L473.38 288.75 L475.41 288.59 L477.43 288.44 L479.46 288.29 L481.49 288.14 L483.52 287.98 L485.55 287.83 L487.58 287.69 L489.60 287.54 L491.63 287.39 L493.66 287.24 L495.69 287.10 L497.72 286.96 L499.75 286.81 L501.77 286.67 L503.80 286.53 L505.83 286.39 L507.86 286.26 L509.89 286.12 L511.92 285.99 L513.94 285.86 L515.97 285.73 L518.00 285.60 L520.03 285.47 L522.06 285.35 L524.08 285.23 L526.11 285.11 L528.14 284.99 L530.17 284.87 L532.20 284.76 L534.23 284.64 L536.25 284.53 L538.28 284.42 L540.31 284.31 L542.34 284.20 L544.37 284.09 L546.40 283.98 L548.42 283.88 L550.45 283.77 L552.48 283.67 L554.51 283.56 L556.54 283.46 L558.57 283.36 L560.59 283.25 L562.62 283.15 L564.65 283.05 L566.68 282.95 L568.71 282.84 L570.73 282.74 L572.76 282.64 L574.79 282.53 L576.82 282.43 L578.85 282.33 L580.87 282.22 L582.90 282.12 L584.93 282.02 L586.96 281.92 L588.99 281.82 L591.01 281.73 L593.04 281.63 L595.07 281.54 L597.10 281.45 L599.13 281.36 L601.16 281.28 L603.18 281.19 L605.21 281.12 L607.24 281.04 L609.27 280.97 L611.30 280.90 L613.34 280.84 L615.41 280.77 L617.50 280.72 L619.61 280.66 L621.73 280.61 L623.86 280.56 L626.00 280.51 L628.14 280.46 L630.27 280.42 L632.41 280.38 L634.53 280.34 L636.65 280.30 L638.74 280.27 L640.82 280.24 L642.87 280.20 L644.90 280.17 L646.89 280.15 L648.85 280.12 L650.77 280.09 L652.65 280.07 L654.49 280.04 L656.27 280.02 L658.00 280.00 L660.58 279.97 L663.10 279.95 L665.55 279.93 L667.94 279.91 L670.27 279.90 L672.52 279.90 L674.71 279.89 L676.83 279.89 L678.88 279.89 L680.86 279.90 L682.76 279.90 L684.58 279.90 L686.33 279.90 L688.01 279.90 L689.60 279.90 L692.34 279.89 L694.17 279.87 L695.53 279.85 L696.83 279.83 L698.49 279.83 L700.94 279.85 L704.60 279.90 L706.00 279.92 L707.51 279.94 L709.12 279.96 L710.83 279.99 L712.63 280.01 L714.51 280.04 L716.47 280.07 L718.48 280.10 L720.56 280.13 L722.68 280.16 L724.85 280.20 L727.05 280.24 L729.28 280.28 L731.52 280.32 L733.78 280.36 L736.03 280.41 L738.28 280.46 L740.52 280.51 L742.74 280.56 L744.93 280.62 L747.08 280.68 L749.19 280.74 L751.25 280.80 L753.28 280.87 L755.31 280.93 L757.34 281.00 L759.36 281.07 L761.39 281.15 L763.42 281.22 L765.45 281.30 L767.48 281.37 L769.51 281.46 L771.54 281.54 L773.56 281.62 L775.59 281.71 L777.62 281.80 L779.65 281.90 L781.68 282.00 L783.71 282.10 L785.73 282.20 L787.76 282.31 L789.79 282.42 L791.82 282.53 L793.85 282.65 L795.87 282.77 L797.90 282.90 L799.94 283.03 L802.01 283.17 L804.10 283.32 L806.20 283.47 L808.32 283.63 L810.45 283.79 L812.59 283.96 L814.73 284.13 L816.87 284.30 L819.00 284.48 L821.12 284.65 L823.23 284.83 L825.33 285.01 L827.40 285.19 L829.45 285.37 L831.47 285.55 L833.46 285.72 L835.41 285.90 L837.32 286.07 L839.19 286.23 L841.01 286.39 L842.78 286.55 L844.50 286.70 L847.08 286.93 L849.65 287.16 L852.19 287.40 L854.69 287.64 L857.14 287.87 L859.51 288.10 L861.80 288.33 L864.00 288.55 L866.08 288.75 L868.04 288.95 L869.86 289.14 L871.53 289.30 L873.04 289.46 L874.37 289.59 L875.50 289.70" stroke-width="2.1"/>
<path d="M362.70 306.40 L363.81 306.31 L365.04 306.21 L366.54 306.10 L368.44 305.94 L370.89 305.74 L374.03 305.46 L378.00 305.10 L379.41 304.97 L380.92 304.83 L382.54 304.68 L384.26 304.51 L386.06 304.34 L387.95 304.16 L389.90 303.97 L391.92 303.78 L394.00 303.58 L396.13 303.38 L398.29 303.17 L400.49 302.96 L402.72 302.75 L404.97 302.53 L407.22 302.32 L409.48 302.11 L411.73 301.89 L413.97 301.68 L416.19 301.48 L418.38 301.27 L420.53 301.08 L422.64 300.89 L424.70 300.70 L426.73 300.52 L428.76 300.34 L430.79 300.16 L432.82 299.98 L434.84 299.79 L436.87 299.61 L438.90 299.44 L440.93 299.26 L442.96 299.08 L444.99 298.90 L447.01 298.73 L449.04 298.55 L451.07 298.38 L453.10 298.21 L455.13 298.04 L457.15 297.87 L459.18 297.70 L461.21 297.54 L463.24 297.38 L465.27 297.22 L467.29 297.06 L469.32 296.90 L471.35 296.75 L473.38 296.60 L475.41 296.45 L477.43 296.30 L479.46 296.16 L481.49 296.01 L483.52 295.87 L485.55 295.73 L487.58 295.59 L489.60 295.46 L491.63 295.32 L493.66 295.19 L495.69 295.06 L497.72 294.93 L499.75 294.80 L501.77 294.67 L503.80 294.55 L505.83 294.42 L507.86 294.30 L509.89 294.18 L511.92 294.06 L513.94 293.94 L515.97 293.82 L518.00 293.70 L520.03 293.58 L522.06 293.47 L524.08 293.36 L526.11 293.24 L528.14 293.14 L530.17 293.03 L532.20 292.92 L534.23 292.82 L536.25 292.71 L538.28 292.61 L540.31 292.51 L542.34 292.41 L544.37 292.31 L546.40 292.21 L548.42 292.11 L550.45 292.01 L552.48 291.92 L554.51 291.82 L556.54 291.73 L558.57 291.63 L560.59 291.54 L562.62 291.44 L564.65 291.35 L566.68 291.26 L568.71 291.16 L570.73 291.07 L572.76 290.98 L574.79 290.88 L576.82 290.79 L578.85 290.70 L580.87 290.60 L582.90 290.51 L584.93 290.42 L586.96 290.33 L588.99 290.25 L591.01 290.16 L593.04 290.08 L595.07 289.99 L597.10 289.91 L599.13 289.83 L601.16 289.75 L603.18 289.68 L605.21 289.60 L607.24 289.53 L609.27 289.47 L611.30 289.40 L613.34 289.34 L615.41 289.28 L617.50 289.22 L619.61 289.16 L621.73 289.10 L623.86 289.05 L626.00 289.00 L628.14 288.95 L630.27 288.90 L632.41 288.86 L634.53 288.81 L636.65 288.77 L638.74 288.73 L640.82 288.69 L642.87 288.65 L644.90 288.61 L646.89 288.58 L648.85 288.55 L650.77 288.51 L652.65 288.48 L654.49 288.45 L656.27 288.43 L658.00 288.40 L660.58 288.36 L663.10 288.33 L665.55 288.30 L667.94 288.28 L670.27 288.26 L672.52 288.25 L674.71 288.24 L676.83 288.23 L678.88 288.22 L680.86 288.21 L682.76 288.21 L684.58 288.21 L686.33 288.21 L688.01 288.20 L689.60 288.20 L692.34 288.19 L694.17 288.19 L695.53 288.19 L696.83 288.19 L698.49 288.21 L700.94 288.25 L704.60 288.30 L706.00 288.32 L707.51 288.34 L709.12 288.36 L710.83 288.38 L712.63 288.41 L714.51 288.43 L716.47 288.45 L718.48 288.48 L720.56 288.51 L722.68 288.54 L724.85 288.57 L727.05 288.60 L729.28 288.63 L731.52 288.67 L733.78 288.71 L736.03 288.75 L738.28 288.79 L740.52 288.83 L742.74 288.88 L744.93 288.93 L747.08 288.98 L749.19 289.04 L751.25 289.10 L753.28 289.16 L755.31 289.23 L757.34 289.29 L759.36 289.36 L761.39 289.43 L763.42 289.50 L765.45 289.58 L767.48 289.65 L769.51 289.73 L771.54 289.81 L773.56 289.89 L775.59 289.98 L777.62 290.07 L779.65 290.16 L781.68 290.25 L783.71 290.35 L785.73 290.45 L787.76 290.55 L789.79 290.65 L791.82 290.76 L793.85 290.87 L795.87 290.98 L797.90 291.10 L799.94 291.22 L802.01 291.35 L804.10 291.48 L806.20 291.62 L808.32 291.76 L810.45 291.91 L812.59 292.06 L814.73 292.21 L816.87 292.37 L819.00 292.52 L821.12 292.68 L823.23 292.84 L825.33 293.00 L827.40 293.16 L829.45 293.32 L831.47 293.48 L833.46 293.63 L835.41 293.79 L837.32 293.94 L839.19 294.09 L841.01 294.23 L842.78 294.37 L844.50 294.50 L847.08 294.70 L849.65 294.91 L852.19 295.11 L854.69 295.32 L857.14 295.52 L859.51 295.72 L861.80 295.92 L864.00 296.11 L866.08 296.29 L868.04 296.46 L869.86 296.61 L871.53 296.76 L873.04 296.89 L874.37 297.00 L875.50 297.10" stroke-width="3.2"/>
</g>
<circle cx="689.60" cy="152.60" r="6.3" fill="#ffee00" stroke="#f00" stroke-width="1.7"/>
<path d="M51.50 390.40 L59.48 390.36 L67.45 390.25 L75.43 390.07 L83.41 389.81 L91.39 389.47 L99.36 389.06 L107.34 388.58 L115.32 388.02 L123.29 387.39 L131.27 386.68 L139.25 385.90 L147.23 385.05 L155.20 384.12 L163.18 383.12 L171.16 382.04 L179.13 380.89 L187.11 379.66 L195.09 378.36 L203.07 376.99 L211.04 375.54 L219.02 374.01 L227.00 372.42 L234.97 370.74 L242.95 369.00 L250.93 367.18 L258.91 365.28 L266.88 363.31 L274.86 361.27 L282.84 359.15 L290.81 356.96 L298.79 354.69 L306.77 352.35 L314.75 349.94 L322.72 347.45 L330.70 344.88 L338.68 342.24 L346.65 339.53 L354.63 336.75 L362.61 333.88 L370.59 330.95 L378.56 327.94 L386.54 324.86 L394.52 321.70 L402.49 318.46 L410.47 315.16 L418.45 311.78 L426.43 308.32 L434.40 304.79 L442.38 301.19 L450.36 297.51 L458.33 293.76 L466.31 289.93 L474.29 286.03 L482.27 282.05 L490.24 278.00 L498.22 273.88 L506.20 269.68 L514.17 265.41 L522.15 261.06 L530.13 256.64 L538.11 252.14 L546.08 247.57 L554.06 242.93 L562.04 238.21 L570.01 233.41 L577.99 228.55 L585.97 223.60 L593.95 218.59 L601.92 213.50 L609.90 208.33 L617.88 203.09 L625.85 197.78 L633.83 192.39 L641.81 186.93 L649.79 181.39 L657.76 175.78 L665.74 170.10 L673.72 164.34 L681.69 158.51 L689.67 152.60" fill="none" stroke="#ff2a2a" stroke-width="0.9"/>
<path d="M51.50 152.60H690.20" stroke="#000" stroke-width="1.1" fill="none"/>
<path d="M689.60 152.60V390.40" stroke="#222" stroke-width="1.2" fill="none"/>
<circle cx="689.60" cy="279.7" r="6.2" fill="#f00"/>
<circle cx="689.60" cy="288.1" r="6.2" fill="#f00"/>
<rect x="795.6" y="0.3" width="163.4" height="28.2" fill="#fff" stroke="#4a4a4a" stroke-width="1"/>
<text x="800.80" y="19.00" letter-spacing="-0.144">CRE 10-5, 3*500 V</text>
<g stroke="#000" fill="none" stroke-width="1.6">
<path d="M51 0V391.40" stroke-width="2"/>
<path d="M959.05 0V391.40" stroke-width="2"/>
<path d="M44.00 390.50H966.00" stroke-width="1.5"/>
<path d="M44.00 357.90H51M44.00 325.40H51M44.00 292.90H51M44.00 260.40H51M44.00 227.90H51M44.00 195.40H51M44.00 162.90H51M44.00 130.40H51M44.00 97.90H51M44.00 65.40H51M959 357.84H966.00M959 325.28H966.00M959 292.72H966.00M959 260.16H966.00M959 227.60H966.00M51.50 390.40v7M98.15 390.40v7M144.80 390.40v7M191.45 390.40v7M238.10 390.40v7M284.75 390.40v7M331.40 390.40v7M378.05 390.40v7M424.70 390.40v7M471.35 390.40v7M518.00 390.40v7M564.65 390.40v7M611.30 390.40v7M657.95 390.40v7M704.60 390.40v7M751.25 390.40v7M797.90 390.40v7M844.55 390.40v7M891.20 390.40v7M937.85 390.40v7"/>
</g>
<text x="29.00" y="395.00" letter-spacing="-0.45">0</text>
<text x="20.00" y="362.50" letter-spacing="-0.45">10</text>
<text x="20.00" y="330.00" letter-spacing="-0.45">20</text>
<text x="20.00" y="297.50" letter-spacing="-0.45">30</text>
<text x="20.00" y="265.00" letter-spacing="-0.45">40</text>
<text x="20.00" y="232.50" letter-spacing="-0.45">50</text>
<text x="20.00" y="200.00" letter-spacing="-0.45">60</text>
<text x="20.00" y="167.50" letter-spacing="-0.45">70</text>
<text x="20.00" y="135.00" letter-spacing="-0.45">80</text>
<text x="20.00" y="102.50" letter-spacing="-0.45">90</text>
<text x="11.00" y="70.00" letter-spacing="-0.45">100</text>
<text x="970.90" y="395.00" letter-spacing="-0.45">0</text>
<text x="970.90" y="362.44" letter-spacing="-0.45">20</text>
<text x="971.90" y="329.88" letter-spacing="-0.45">40</text>
<text x="970.90" y="297.32" letter-spacing="-0.45">60</text>
<text x="970.90" y="264.76" letter-spacing="-0.45">80</text>
<text x="970.90" y="232.20" letter-spacing="-0.45">100</text>
<text x="46.20" y="412.60" letter-spacing="-0.45">0</text>
<text x="92.85" y="412.60" letter-spacing="-0.45">1</text>
<text x="139.50" y="412.60" letter-spacing="-0.45">2</text>
<text x="186.15" y="412.60" letter-spacing="-0.45">3</text>
<text x="233.30" y="412.60" letter-spacing="-0.45">4</text>
<text x="279.45" y="412.60" letter-spacing="-0.45">5</text>
<text x="326.10" y="412.60" letter-spacing="-0.45">6</text>
<text x="372.75" y="412.60" letter-spacing="-0.45">7</text>
<text x="419.40" y="412.60" letter-spacing="-0.45">8</text>
<text x="466.05" y="412.60" letter-spacing="-0.45">9</text>
<text x="508.20" y="412.60" letter-spacing="-0.45">10</text>
<text x="555.85" y="412.60" letter-spacing="-0.45">11</text>
<text x="601.50" y="412.60" letter-spacing="-0.45">12</text>
<text x="648.15" y="412.60" letter-spacing="-0.45">13</text>
<text x="694.80" y="412.60" letter-spacing="-0.45">14</text>
<text x="741.45" y="412.60" letter-spacing="-0.45">15</text>
<text x="788.10" y="412.60" letter-spacing="-0.45">16</text>
<text x="834.75" y="412.60" letter-spacing="-0.45">17</text>
<text x="21.40" y="14.80">H</text>
<text x="16.20" y="34.30" letter-spacing="0.200">[m]</text>
<text x="968.80" y="14.80" letter-spacing="-0.400">eta</text>
<text x="968.80" y="34.40" letter-spacing="0.300">[%]</text>
<text x="887.50" y="413.00" letter-spacing="0.214">Q [m³/h]</text>
<text x="408.40" y="82.80" letter-spacing="-0.650">100 %</text>
<text x="401.70" y="92.70" letter-spacing="-0.433">98 %</text>
<text x="181.50" y="343.80">36 %</text>
<text x="53.50" y="438.80" letter-spacing="0.023">Q = 13.68 m³/h</text>
<text x="53.90" y="460.40" letter-spacing="-0.089">n = 99 % / 3937 rpm</text>
<text x="53.70" y="482.00" letter-spacing="-0.010">Liquid temperature during operation = 20 °C</text>
<text x="53.90" y="503.60" letter-spacing="-0.175">Eta pump = 68.1 %</text>
<text x="439.30" y="438.80" letter-spacing="-0.080">H = 73.17 m</text>
<text x="439.30" y="460.40" letter-spacing="-0.120">Pumped liquid = Water</text>
<text x="439.30" y="482.00" letter-spacing="0.015">Density = 998.2 kg/m³</text>
<text x="439.30" y="503.60" letter-spacing="-0.062">Eta pump+motor+freq.converter = 62.9 %</text>
<path d="M51.50 688.80 L51.50 656.25 L52.60 656.13 L53.87 655.98 L55.28 655.83 L56.84 655.66 L58.54 655.48 L60.35 655.28 L62.26 655.07 L64.28 654.86 L66.37 654.63 L68.54 654.39 L70.77 654.15 L73.06 653.90 L75.38 653.64 L77.72 653.37 L80.08 653.11 L82.45 652.83 L84.81 652.56 L87.15 652.28 L89.45 652.00 L91.72 651.73 L93.93 651.45 L96.08 651.17 L98.15 650.90 L100.18 650.63 L102.21 650.35 L104.23 650.07 L106.26 649.79 L108.29 649.50 L110.32 649.21 L112.35 648.92 L114.38 648.62 L116.40 648.32 L118.43 648.02 L120.46 647.71 L122.49 647.40 L124.52 647.09 L126.55 646.77 L128.57 646.45 L130.60 646.12 L132.63 645.80 L134.66 645.46 L136.69 645.13 L138.72 644.79 L140.74 644.45 L142.77 644.10 L144.80 643.75 L146.83 643.39 L148.86 643.03 L150.88 642.66 L152.91 642.29 L154.94 641.91 L156.97 641.53 L159.00 641.14 L161.03 640.74 L163.05 640.35 L165.08 639.95 L167.11 639.55 L169.14 639.14 L171.17 638.74 L173.20 638.33 L175.22 637.93 L177.25 637.52 L179.28 637.11 L181.31 636.71 L183.34 636.30 L185.37 635.90 L187.39 635.50 L189.42 635.10 L191.45 634.70 L193.48 634.30 L195.51 633.91 L197.53 633.51 L199.56 633.11 L201.59 632.72 L203.62 632.32 L205.65 631.92 L207.68 631.52 L209.70 631.12 L211.73 630.72 L213.76 630.32 L215.79 629.92 L217.82 629.52 L219.85 629.13 L221.87 628.73 L223.90 628.33 L225.93 627.94 L227.96 627.55 L229.99 627.15 L232.02 626.76 L234.04 626.37 L236.07 625.99 L238.10 625.60 L240.13 625.21 L242.16 624.83 L244.18 624.44 L246.21 624.05 L248.24 623.65 L250.27 623.26 L252.30 622.87 L254.33 622.48 L256.35 622.09 L258.38 621.70 L260.41 621.32 L262.44 620.93 L264.47 620.55 L266.50 620.18 L268.52 619.80 L270.55 619.43 L272.58 619.07 L274.61 618.71 L276.64 618.35 L278.67 618.00 L280.69 617.66 L282.72 617.33 L284.75 617.00 L286.79 616.68 L288.86 616.36 L290.95 616.05 L293.06 615.74 L295.18 615.44 L297.31 615.14 L299.45 614.84 L301.59 614.55 L303.73 614.27 L305.86 613.98 L307.99 613.71 L310.10 613.43 L312.20 613.16 L314.27 612.90 L316.32 612.64 L318.35 612.38 L320.34 612.13 L322.29 611.88 L324.21 611.64 L326.08 611.40 L327.91 611.16 L329.68 610.93 L331.40 610.70 L333.99 610.35 L336.56 610.01 L339.11 609.67 L341.62 609.34 L344.07 609.02 L346.45 608.70 L348.75 608.40 L350.95 608.11 L351.20 608.90 L349.28 610.52 L347.51 612.04 L345.81 613.50 L344.08 614.96 L342.21 616.46 L340.11 618.07 L337.67 619.82 L334.80 621.78 L331.40 624.00 L329.90 624.96 L328.31 625.97 L326.63 627.05 L324.86 628.17 L323.02 629.34 L321.12 630.54 L319.14 631.78 L317.12 633.05 L315.04 634.33 L312.93 635.64 L310.77 636.95 L308.59 638.26 L306.39 639.58 L304.17 640.89 L301.94 642.18 L299.71 643.46 L297.49 644.71 L295.27 645.94 L293.08 647.12 L290.90 648.27 L288.76 649.37 L286.66 650.41 L284.60 651.40 L282.56 652.34 L280.53 653.25 L278.49 654.14 L276.45 655.00 L274.41 655.83 L272.38 656.64 L270.34 657.43 L268.30 658.19 L266.26 658.94 L264.22 659.67 L262.18 660.38 L260.14 661.07 L258.11 661.75 L256.07 662.41 L254.03 663.07 L252.00 663.71 L249.97 664.34 L247.93 664.96 L245.90 665.58 L243.87 666.19 L241.85 666.80 L239.82 667.40 L237.80 668.00 L235.76 668.59 L233.69 669.18 L231.60 669.75 L229.48 670.31 L227.34 670.87 L225.20 671.41 L223.05 671.94 L220.89 672.46 L218.74 672.97 L216.60 673.47 L214.47 673.95 L212.35 674.43 L210.26 674.90 L208.19 675.36 L206.16 675.80 L204.16 676.24 L202.20 676.66 L200.29 677.08 L198.43 677.48 L196.63 677.88 L194.89 678.26 L193.21 678.64 L191.60 679.00 L188.86 679.62 L186.22 680.20 L183.67 680.76 L181.23 681.28 L178.91 681.77 L176.71 682.22 L174.65 682.64 L172.72 683.04 L170.95 683.39 L169.33 683.72 L167.88 684.01 L166.60 684.27 L165.50 684.50 Z" fill="#eff7ff"/>
<path d="M165.50 684.50 L166.60 684.27 L167.88 684.01 L169.33 683.72 L170.95 683.39 L172.72 683.04 L174.65 682.64 L176.71 682.22 L178.91 681.77 L181.23 681.28 L183.67 680.76 L186.22 680.20 L188.86 679.62 L191.60 679.00 L193.21 678.64 L194.89 678.26 L196.63 677.88 L198.43 677.48 L200.29 677.08 L202.20 676.66 L204.16 676.24 L206.16 675.80 L208.19 675.36 L210.26 674.90 L212.35 674.43 L214.47 673.95 L216.60 673.47 L218.74 672.97 L220.89 672.46 L223.05 671.94 L225.20 671.41 L227.34 670.87 L229.48 670.31 L231.60 669.75 L233.69 669.18 L235.76 668.59 L237.80 668.00 L239.82 667.40 L241.85 666.80 L243.87 666.19 L245.90 665.58 L247.93 664.96 L249.97 664.34 L252.00 663.71 L254.03 663.07 L256.07 662.41 L258.11 661.75 L260.14 661.07 L262.18 660.38 L264.22 659.67 L266.26 658.94 L268.30 658.19 L270.34 657.43 L272.38 656.64 L274.41 655.83 L276.45 655.00 L278.49 654.14 L280.53 653.25 L282.56 652.34 L284.60 651.40 L286.66 650.41 L288.76 649.37 L290.90 648.27 L293.08 647.12 L295.27 645.94 L297.49 644.71 L299.71 643.46 L301.94 642.18 L304.17 640.89 L306.39 639.58 L308.59 638.26 L310.77 636.95 L312.93 635.64 L315.04 634.33 L317.12 633.05 L319.14 631.78 L321.12 630.54 L323.02 629.34 L324.86 628.17 L326.63 627.05 L328.31 625.97 L329.90 624.96 L331.40 624.00 L334.80 621.78 L337.67 619.82 L340.11 618.07 L342.21 616.46 L344.08 614.96 L345.81 613.50 L347.51 612.04 L349.28 610.52 L351.20 608.90 L353.57 606.88 L356.02 604.71 L358.49 602.47 L360.89 600.26 L363.13 598.16 L365.13 596.27 L366.82 594.69 L368.10 593.50 L369.16 593.34 L370.31 593.17 L371.56 592.99 L372.89 592.79 L374.30 592.58 L375.80 592.36 L377.36 592.13 L379.01 591.89 L380.72 591.63 L382.50 591.36 L384.34 591.09 L386.25 590.81 L388.20 590.51 L390.22 590.21 L392.28 589.91 L394.39 589.59 L396.54 589.27 L398.73 588.94 L400.96 588.61 L403.22 588.28 L405.51 587.93 L407.82 587.59 L410.16 587.24 L412.52 586.89 L414.89 586.54 L417.28 586.19 L419.68 585.83 L422.08 585.48 L424.49 585.12 L426.90 584.77 L429.30 584.41 L431.70 584.06 L434.08 583.71 L436.45 583.36 L438.81 583.02 L441.14 582.68 L443.45 582.34 L445.73 582.01 L447.98 581.69 L450.20 581.37 L452.38 581.06 L454.52 580.75 L456.62 580.45 L458.67 580.16 L460.66 579.88 L462.61 579.61 L464.49 579.34 L466.32 579.09 L468.08 578.85 L469.78 578.62 L471.40 578.40 L474.15 578.03 L476.83 577.68 L479.44 577.35 L481.97 577.03 L484.44 576.72 L486.84 576.43 L489.18 576.15 L491.46 575.88 L493.69 575.62 L495.85 575.37 L497.97 575.13 L500.04 574.90 L502.05 574.68 L504.03 574.47 L505.96 574.27 L507.85 574.07 L509.71 573.88 L511.53 573.69 L513.32 573.51 L515.08 573.33 L516.81 573.16 L518.52 572.98 L520.20 572.81 L521.87 572.64 L523.52 572.48 L525.15 572.31 L526.78 572.14 L528.39 571.97 L530.00 571.80 L532.68 571.51 L535.24 571.24 L537.69 570.99 L540.04 570.75 L542.29 570.52 L544.46 570.31 L546.55 570.10 L548.56 569.91 L550.50 569.72 L552.39 569.54 L554.22 569.37 L556.00 569.20 L557.75 569.04 L559.47 568.88 L561.16 568.72 L562.84 568.56 L564.50 568.40 L567.05 568.16 L569.56 567.92 L572.00 567.70 L574.35 567.49 L576.58 567.28 L578.69 567.09 L580.65 566.92 L582.42 566.76 L584.01 566.62 L585.37 566.50 L586.50 566.40 L689.60 566.40 L876.00 566.40 L876.00 567.00 L874.85 567.62 L873.49 568.36 L871.96 569.21 L870.25 570.15 L868.39 571.18 L866.39 572.28 L864.27 573.44 L862.03 574.66 L859.70 575.92 L857.29 577.21 L854.80 578.52 L852.27 579.84 L849.70 581.16 L847.10 582.47 L844.50 583.75 L842.74 584.60 L840.87 585.49 L838.91 586.42 L836.86 587.38 L834.73 588.37 L832.54 589.38 L830.30 590.41 L828.03 591.45 L825.73 592.50 L823.42 593.54 L821.11 594.59 L818.81 595.63 L816.54 596.65 L814.30 597.65 L812.12 598.63 L810.00 599.58 L807.95 600.50 L805.98 601.38 L804.12 602.21 L802.37 603.00 L800.74 603.73 L799.24 604.40 L797.90 605.00 L793.71 606.95 L791.84 607.89 L790.91 608.37 L789.52 608.89 L786.25 610.00 L784.82 610.48 L783.27 610.98 L781.62 611.52 L779.87 612.08 L778.02 612.66 L776.09 613.26 L774.08 613.88 L772.00 614.52 L769.86 615.17 L767.66 615.84 L765.40 616.52 L763.11 617.21 L760.78 617.91 L758.42 618.61 L756.04 619.32 L753.65 620.04 L751.25 620.75 L749.42 621.29 L747.51 621.86 L745.51 622.45 L743.43 623.05 L741.30 623.68 L739.11 624.31 L736.89 624.96 L734.64 625.62 L732.37 626.28 L730.09 626.94 L727.81 627.59 L725.55 628.25 L723.31 628.89 L721.10 629.53 L718.94 630.15 L716.84 630.75 L714.81 631.34 L712.85 631.90 L710.98 632.43 L709.21 632.94 L707.55 633.41 L706.01 633.85 L704.60 634.25 L700.94 635.28 L698.49 635.95 L696.83 636.38 L695.53 636.70 L694.17 637.04 L692.34 637.51 L689.60 638.25 L688.01 638.70 L686.33 639.18 L684.58 639.70 L682.76 640.25 L680.86 640.82 L678.88 641.42 L676.83 642.03 L674.71 642.65 L672.52 643.28 L670.27 643.92 L667.94 644.55 L665.55 645.18 L663.10 645.80 L660.58 646.41 L658.00 647.00 L656.27 647.38 L654.49 647.76 L652.65 648.14 L650.77 648.51 L648.85 648.89 L646.89 649.27 L644.90 649.65 L642.87 650.03 L640.82 650.41 L638.74 650.79 L636.65 651.17 L634.53 651.55 L632.41 651.92 L630.27 652.30 L628.14 652.67 L626.00 653.05 L623.86 653.42 L621.73 653.79 L619.61 654.15 L617.50 654.52 L615.41 654.88 L613.34 655.24 L611.30 655.60 L609.27 655.96 L607.24 656.31 L605.21 656.66 L603.18 657.01 L601.16 657.36 L599.13 657.71 L597.10 658.05 L595.07 658.40 L593.04 658.74 L591.01 659.08 L588.99 659.42 L586.96 659.76 L584.93 660.09 L582.90 660.43 L580.87 660.76 L578.85 661.10 L576.82 661.43 L574.79 661.76 L572.76 662.09 L570.73 662.42 L568.71 662.75 L566.68 663.07 L564.65 663.40 L562.62 663.73 L560.59 664.05 L558.57 664.37 L556.54 664.69 L554.51 665.01 L552.48 665.33 L550.45 665.65 L548.42 665.96 L546.40 666.27 L544.37 666.59 L542.34 666.90 L540.31 667.21 L538.28 667.52 L536.25 667.83 L534.23 668.14 L532.20 668.45 L530.17 668.76 L528.14 669.07 L526.11 669.37 L524.08 669.68 L522.06 669.99 L520.03 670.29 L518.00 670.60 L515.97 670.91 L513.94 671.22 L511.92 671.53 L509.89 671.84 L507.86 672.16 L505.83 672.47 L503.80 672.78 L501.77 673.10 L499.75 673.41 L497.72 673.72 L495.69 674.03 L493.66 674.34 L491.63 674.65 L489.60 674.95 L487.58 675.25 L485.55 675.55 L483.52 675.84 L481.49 676.13 L479.46 676.42 L477.43 676.70 L475.41 676.97 L473.38 677.24 L471.35 677.50 L469.32 677.76 L467.29 678.00 L465.27 678.25 L463.24 678.49 L461.21 678.72 L459.18 678.95 L457.15 679.17 L455.13 679.39 L453.10 679.61 L451.07 679.82 L449.04 680.03 L447.01 680.24 L444.99 680.45 L442.96 680.65 L440.93 680.86 L438.90 681.06 L436.87 681.26 L434.84 681.47 L432.82 681.67 L430.79 681.88 L428.76 682.08 L426.73 682.29 L424.70 682.50 L422.65 682.71 L420.56 682.93 L418.43 683.15 L416.28 683.37 L414.10 683.60 L411.91 683.82 L409.71 684.05 L407.51 684.27 L405.30 684.50 L403.11 684.72 L400.92 684.94 L398.76 685.16 L396.63 685.37 L394.52 685.59 L392.46 685.79 L390.43 685.99 L388.46 686.19 L386.54 686.38 L384.69 686.56 L382.90 686.73 L381.18 686.90 L379.55 687.05 L378.00 687.20 L374.96 687.48 L372.13 687.73 L369.51 687.95 L367.09 688.14 L364.87 688.32 L362.84 688.47 L361.01 688.60 L359.36 688.72 L357.89 688.82 L356.61 688.91 L355.50 689.00 L165.50 689.00 Z" fill="#cfdbe7" fill-opacity="1.0"/>
<defs><linearGradient id="bandfade" gradientUnits="userSpaceOnUse" x1="362" y1="0" x2="640" y2="0"><stop offset="0" stop-color="#fff" stop-opacity="0.5"/><stop offset="0.6" stop-color="#fff" stop-opacity="0.4"/><stop offset="1" stop-color="#fff" stop-opacity="0"/></linearGradient></defs>
<path d="M368.10 593.50 L369.16 593.34 L370.31 593.17 L371.56 592.99 L372.89 592.79 L374.30 592.58 L375.80 592.36 L377.36 592.13 L379.01 591.89 L380.72 591.63 L382.50 591.36 L384.34 591.09 L386.25 590.81 L388.20 590.51 L390.22 590.21 L392.28 589.91 L394.39 589.59 L396.54 589.27 L398.73 588.94 L400.96 588.61 L403.22 588.28 L405.51 587.93 L407.82 587.59 L410.16 587.24 L412.52 586.89 L414.89 586.54 L417.28 586.19 L419.68 585.83 L422.08 585.48 L424.49 585.12 L426.90 584.77 L429.30 584.41 L431.70 584.06 L434.08 583.71 L436.45 583.36 L438.81 583.02 L441.14 582.68 L443.45 582.34 L445.73 582.01 L447.98 581.69 L450.20 581.37 L452.38 581.06 L454.52 580.75 L456.62 580.45 L458.67 580.16 L460.66 579.88 L462.61 579.61 L464.49 579.34 L466.32 579.09 L468.08 578.85 L469.78 578.62 L471.40 578.40 L474.15 578.03 L476.83 577.68 L479.44 577.35 L481.97 577.03 L484.44 576.72 L486.84 576.43 L489.18 576.15 L491.46 575.88 L493.69 575.62 L495.85 575.37 L497.97 575.13 L500.04 574.90 L502.05 574.68 L504.03 574.47 L505.96 574.27 L507.85 574.07 L509.71 573.88 L511.53 573.69 L513.32 573.51 L515.08 573.33 L516.81 573.16 L518.52 572.98 L520.20 572.81 L521.87 572.64 L523.52 572.48 L525.15 572.31 L526.78 572.14 L528.39 571.97 L530.00 571.80 L532.68 571.51 L535.24 571.24 L537.69 570.99 L540.04 570.75 L542.29 570.52 L544.46 570.31 L546.55 570.10 L548.56 569.91 L550.50 569.72 L552.39 569.54 L554.22 569.37 L556.00 569.20 L557.75 569.04 L559.47 568.88 L561.16 568.72 L562.84 568.56 L564.50 568.40 L567.05 568.16 L569.56 567.92 L572.00 567.70 L574.35 567.49 L576.58 567.28 L578.69 567.09 L580.65 566.92 L582.42 566.76 L584.01 566.62 L585.37 566.50 L586.50 566.40 L640.00 566.40 L640.00 578.00 L639.98 578.03 L638.02 578.11 L636.06 578.20 L634.10 578.29 L632.14 578.38 L630.17 578.47 L628.19 578.57 L626.19 578.67 L624.17 578.77 L622.13 578.88 L620.05 578.99 L617.95 579.11 L615.81 579.23 L613.63 579.36 L611.40 579.50 L609.51 579.62 L607.58 579.74 L605.60 579.87 L603.58 580.01 L601.53 580.14 L599.44 580.29 L597.34 580.43 L595.21 580.58 L593.07 580.74 L590.92 580.89 L588.77 581.05 L586.62 581.20 L584.47 581.36 L582.34 581.52 L580.22 581.68 L578.13 581.84 L576.06 582.00 L574.02 582.15 L572.02 582.31 L570.07 582.46 L568.16 582.61 L566.30 582.76 L564.50 582.90 L562.19 583.09 L560.02 583.26 L557.98 583.43 L556.04 583.59 L554.18 583.75 L552.38 583.90 L550.61 584.06 L548.86 584.21 L547.10 584.37 L545.30 584.54 L543.46 584.71 L541.53 584.89 L539.51 585.08 L537.37 585.29 L535.09 585.51 L532.64 585.75 L530.00 586.00 L528.40 586.15 L526.79 586.30 L525.18 586.45 L523.56 586.60 L521.94 586.74 L520.30 586.89 L518.64 587.04 L516.96 587.18 L515.26 587.33 L513.54 587.48 L511.78 587.64 L509.99 587.80 L508.16 587.97 L506.30 588.14 L504.39 588.31 L502.44 588.50 L500.43 588.69 L498.38 588.89 L496.27 589.11 L494.10 589.33 L491.87 589.56 L489.57 589.80 L487.21 590.06 L484.77 590.33 L482.26 590.61 L479.67 590.91 L477.00 591.22 L474.24 591.55 L471.40 591.90 L469.81 592.10 L468.16 592.30 L466.44 592.52 L464.65 592.75 L462.81 592.98 L460.91 593.23 L458.96 593.48 L456.95 593.74 L454.90 594.01 L452.80 594.29 L450.67 594.57 L448.49 594.86 L446.28 595.15 L444.03 595.45 L441.76 595.76 L439.46 596.06 L437.14 596.38 L434.79 596.69 L432.43 597.01 L430.06 597.33 L427.67 597.66 L425.28 597.98 L422.88 598.31 L420.47 598.64 L418.07 598.96 L415.68 599.29 L413.29 599.62 L410.91 599.94 L408.54 600.27 L406.19 600.59 L403.86 600.91 L401.55 601.23 L399.27 601.54 L397.01 601.85 L394.79 602.16 L392.60 602.46 L390.44 602.76 L388.33 603.05 L386.26 603.34 L384.24 603.62 L382.27 603.89 L380.35 604.15 L378.48 604.41 L376.67 604.66 L374.93 604.90 L373.25 605.13 L371.64 605.35 L370.10 605.56 L368.63 605.77 L367.24 605.96 L365.93 606.13 L364.70 606.30 L363.55 606.46 L362.50 606.60 Z" fill="url(#bandfade)"/>
<path d="M98.15 517.80V692.40M144.80 517.80V692.40M191.45 517.80V692.40M238.10 517.80V692.40M284.75 517.80V692.40M331.40 517.80V692.40M378.05 517.80V692.40M424.70 517.80V692.40M471.35 517.80V692.40M518.00 517.80V692.40M564.65 517.80V692.40M611.30 517.80V692.40M657.95 517.80V692.40M704.60 517.80V692.40M751.25 517.80V692.40M797.90 517.80V692.40M844.55 517.80V692.40M891.20 517.80V692.40M937.85 517.80V692.40M51.50 663.30H959.00M51.50 634.20H959.00M51.50 605.10H959.00M51.50 576.00H959.00M51.50 546.90H959.00" stroke="#c9cdd1" stroke-opacity="0.82" stroke-width="1.1" fill="none"/>
<path d="M51.50 517.80H959.00" stroke="#8c8c8c" stroke-width="1.3"/>
<path d="M51.50 672.7H689.6" stroke="#686868" stroke-width="2"/>
<g fill="none" stroke="#06498a" stroke-linecap="round" stroke-linejoin="round">
<path transform="translate(0 0.4)" d="M51.50 648.00 L52.60 647.88 L53.87 647.74 L55.28 647.58 L56.84 647.42 L58.54 647.23 L60.35 647.04 L62.26 646.84 L64.28 646.62 L66.37 646.39 L68.54 646.16 L70.77 645.92 L73.06 645.67 L75.38 645.41 L77.72 645.15 L80.08 644.89 L82.45 644.62 L84.81 644.34 L87.15 644.07 L89.45 643.79 L91.72 643.52 L93.93 643.24 L96.08 642.97 L98.15 642.70 L100.18 642.43 L102.21 642.15 L104.23 641.88 L106.26 641.60 L108.29 641.31 L110.32 641.02 L112.35 640.73 L114.38 640.44 L116.40 640.14 L118.43 639.84 L120.46 639.53 L122.49 639.23 L124.52 638.92 L126.55 638.60 L128.57 638.28 L130.60 637.96 L132.63 637.63 L134.66 637.30 L136.69 636.97 L138.72 636.63 L140.74 636.29 L142.77 635.95 L144.80 635.60 L146.83 635.25 L148.86 634.89 L150.88 634.52 L152.91 634.15 L154.94 633.77 L156.97 633.39 L159.00 633.00 L161.03 632.61 L163.05 632.22 L165.08 631.82 L167.11 631.42 L169.14 631.02 L171.17 630.61 L173.20 630.21 L175.22 629.81 L177.25 629.40 L179.28 629.00 L181.31 628.59 L183.34 628.19 L185.37 627.79 L187.39 627.39 L189.42 626.99 L191.45 626.60 L193.48 626.21 L195.51 625.82 L197.53 625.42 L199.56 625.03 L201.59 624.63 L203.62 624.24 L205.65 623.84 L207.68 623.45 L209.70 623.05 L211.73 622.65 L213.76 622.26 L215.79 621.87 L217.82 621.47 L219.85 621.08 L221.87 620.69 L223.90 620.29 L225.93 619.91 L227.96 619.52 L229.99 619.13 L232.02 618.74 L234.04 618.36 L236.07 617.98 L238.10 617.60 L240.13 617.22 L242.16 616.85 L244.18 616.48 L246.21 616.11 L248.24 615.74 L250.27 615.37 L252.30 615.01 L254.33 614.65 L256.35 614.28 L258.38 613.92 L260.41 613.56 L262.44 613.20 L264.47 612.84 L266.50 612.48 L268.52 612.12 L270.55 611.76 L272.58 611.40 L274.61 611.03 L276.64 610.67 L278.67 610.31 L280.69 609.94 L282.72 609.57 L284.75 609.20 L286.79 608.83 L288.84 608.45 L290.91 608.07 L292.99 607.68 L295.08 607.30 L297.17 606.91 L299.27 606.52 L301.37 606.13 L303.47 605.74 L305.56 605.35 L307.65 604.96 L309.74 604.57 L311.81 604.18 L313.87 603.80 L315.91 603.41 L317.93 603.03 L319.94 602.66 L321.92 602.28 L323.88 601.92 L325.81 601.55 L327.70 601.20 L329.57 600.84 L331.40 600.50 L333.74 600.06 L336.12 599.61 L338.52 599.15 L340.93 598.70 L343.34 598.24 L345.73 597.78 L348.09 597.33 L350.41 596.89 L352.67 596.46 L354.85 596.04 L356.95 595.64 L358.95 595.25 L360.84 594.89 L362.60 594.55 L364.22 594.24 L365.69 593.96 L366.98 593.71 L368.10 593.50" stroke-width="1.3" stroke="#7f95b5" stroke-opacity="0.75"/>
<path transform="translate(0 0.4)" d="M51.50 648.00 L52.60 647.88 L53.87 647.74 L55.28 647.58 L56.84 647.42 L58.54 647.23 L60.35 647.04 L62.26 646.84 L64.28 646.62 L66.37 646.39 L68.54 646.16 L70.77 645.92 L73.06 645.67 L75.38 645.41 L77.72 645.15 L80.08 644.89 L82.45 644.62 L84.81 644.34 L87.15 644.07 L89.45 643.79 L91.72 643.52 L93.93 643.24 L96.08 642.97 L98.15 642.70 L100.18 642.43 L102.21 642.15 L104.23 641.88 L106.26 641.60 L108.29 641.31 L110.32 641.02 L112.35 640.73 L114.38 640.44 L116.40 640.14 L118.43 639.84 L120.46 639.53 L122.49 639.23 L124.52 638.92 L126.55 638.60 L128.57 638.28 L130.60 637.96 L132.63 637.63 L134.66 637.30 L136.69 636.97 L138.72 636.63 L140.74 636.29 L142.77 635.95 L144.80 635.60 L146.83 635.25 L148.86 634.89 L150.88 634.52 L152.91 634.15 L154.94 633.77 L156.97 633.39 L159.00 633.00 L161.03 632.61 L163.05 632.22 L165.08 631.82 L167.11 631.42 L169.14 631.02 L171.17 630.61 L173.20 630.21 L175.22 629.81 L177.25 629.40 L179.28 629.00 L181.31 628.59 L183.34 628.19 L185.37 627.79 L187.39 627.39 L189.42 626.99 L191.45 626.60 L193.48 626.21 L195.51 625.82 L197.53 625.42 L199.56 625.03 L201.59 624.63 L203.62 624.24 L205.65 623.84 L207.68 623.45 L209.70 623.05 L211.73 622.65 L213.76 622.26 L215.79 621.87 L217.82 621.47 L219.85 621.08 L221.87 620.69 L223.90 620.29 L225.93 619.91 L227.96 619.52 L229.99 619.13 L232.02 618.74 L234.04 618.36 L236.07 617.98 L238.10 617.60 L240.13 617.22 L242.16 616.85 L244.18 616.48 L246.21 616.11 L248.24 615.74 L250.27 615.37 L252.30 615.01 L254.33 614.65 L256.35 614.28 L258.38 613.92 L260.41 613.56 L262.44 613.20 L264.47 612.84 L266.50 612.48 L268.52 612.12 L270.55 611.76 L272.58 611.40 L274.61 611.03 L276.64 610.67 L278.67 610.31 L280.69 609.94 L282.72 609.57 L284.75 609.20 L286.79 608.83 L288.84 608.45 L290.91 608.07 L292.99 607.68 L295.08 607.30 L297.17 606.91 L299.27 606.52 L301.37 606.13 L303.47 605.74 L305.56 605.35 L307.65 604.96 L309.74 604.57 L311.81 604.18 L313.87 603.80 L315.91 603.41 L317.93 603.03 L319.94 602.66 L321.92 602.28 L323.88 601.92 L325.81 601.55 L327.70 601.20 L329.57 600.84 L331.40 600.50 L333.74 600.06 L336.12 599.61 L338.52 599.15 L340.93 598.70 L343.34 598.24 L345.73 597.78 L348.09 597.33 L350.41 596.89 L352.67 596.46 L354.85 596.04 L356.95 595.64 L358.95 595.25 L360.84 594.89 L362.60 594.55 L364.22 594.24 L365.69 593.96" stroke-width="1" stroke-dasharray="2.6 4.4" stroke-linecap="butt"/>
<path transform="translate(0 0.4)" d="M51.50 650.00 L52.60 649.88 L53.87 649.74 L55.28 649.58 L56.84 649.42 L58.54 649.23 L60.35 649.04 L62.26 648.84 L64.28 648.62 L66.37 648.39 L68.54 648.16 L70.77 647.92 L73.06 647.67 L75.38 647.41 L77.72 647.15 L80.08 646.89 L82.45 646.62 L84.81 646.34 L87.15 646.07 L89.45 645.79 L91.72 645.52 L93.93 645.24 L96.08 644.97 L98.15 644.70 L100.18 644.43 L102.21 644.15 L104.23 643.88 L106.26 643.60 L108.29 643.31 L110.32 643.02 L112.35 642.73 L114.38 642.44 L116.40 642.14 L118.43 641.84 L120.46 641.53 L122.49 641.23 L124.52 640.92 L126.55 640.60 L128.57 640.28 L130.60 639.96 L132.63 639.63 L134.66 639.30 L136.69 638.97 L138.72 638.63 L140.74 638.29 L142.77 637.95 L144.80 637.60 L146.83 637.25 L148.86 636.89 L150.88 636.52 L152.91 636.15 L154.94 635.77 L156.97 635.39 L159.00 635.00 L161.03 634.61 L163.05 634.22 L165.08 633.82 L167.11 633.42 L169.14 633.02 L171.17 632.61 L173.20 632.21 L175.22 631.81 L177.25 631.40 L179.28 631.00 L181.31 630.59 L183.34 630.19 L185.37 629.79 L187.39 629.39 L189.42 628.99 L191.45 628.60 L193.48 628.21 L195.51 627.82 L197.53 627.42 L199.56 627.03 L201.59 626.63 L203.62 626.24 L205.65 625.84 L207.68 625.45 L209.70 625.05 L211.73 624.65 L213.76 624.26 L215.79 623.87 L217.82 623.47 L219.85 623.08 L221.87 622.69 L223.90 622.29 L225.93 621.91 L227.96 621.52 L229.99 621.13 L232.02 620.74 L234.04 620.36 L236.07 619.98 L238.10 619.60 L240.13 619.22 L242.16 618.85 L244.18 618.47 L246.21 618.10 L248.24 617.72 L250.27 617.35 L252.30 616.98 L254.33 616.61 L256.35 616.24 L258.38 615.87 L260.41 615.51 L262.44 615.14 L264.47 614.78 L266.50 614.42 L268.52 614.05 L270.55 613.69 L272.58 613.33 L274.61 612.98 L276.64 612.62 L278.67 612.26 L280.69 611.91 L282.72 611.55 L284.75 611.20 L286.79 610.85 L288.86 610.49 L290.95 610.13 L293.06 609.78 L295.18 609.42 L297.31 609.06 L299.45 608.70 L301.59 608.34 L303.73 607.99 L305.86 607.63 L307.99 607.28 L310.10 606.93 L312.20 606.59 L314.27 606.24 L316.32 605.90 L318.35 605.57 L320.34 605.24 L322.29 604.92 L324.21 604.60 L326.08 604.29 L327.91 603.99 L329.68 603.69 L331.40 603.40 L333.99 602.96 L336.56 602.53 L339.11 602.10 L341.62 601.67 L344.07 601.25 L346.45 600.85 L348.75 600.45 L350.95 600.08 L353.05 599.72 L355.01 599.38 L356.84 599.07 L358.52 598.78 L360.03 598.52 L361.36 598.29 L362.50 598.10" stroke-width="1.3" stroke="#7f95b5" stroke-opacity="0.75"/>
<path transform="translate(0 0.4)" d="M51.50 650.00 L52.60 649.88 L53.87 649.74 L55.28 649.58 L56.84 649.42 L58.54 649.23 L60.35 649.04 L62.26 648.84 L64.28 648.62 L66.37 648.39 L68.54 648.16 L70.77 647.92 L73.06 647.67 L75.38 647.41 L77.72 647.15 L80.08 646.89 L82.45 646.62 L84.81 646.34 L87.15 646.07 L89.45 645.79 L91.72 645.52 L93.93 645.24 L96.08 644.97 L98.15 644.70 L100.18 644.43 L102.21 644.15 L104.23 643.88 L106.26 643.60 L108.29 643.31 L110.32 643.02 L112.35 642.73 L114.38 642.44 L116.40 642.14 L118.43 641.84 L120.46 641.53 L122.49 641.23 L124.52 640.92 L126.55 640.60 L128.57 640.28 L130.60 639.96 L132.63 639.63 L134.66 639.30 L136.69 638.97 L138.72 638.63 L140.74 638.29 L142.77 637.95 L144.80 637.60 L146.83 637.25 L148.86 636.89 L150.88 636.52 L152.91 636.15 L154.94 635.77 L156.97 635.39 L159.00 635.00 L161.03 634.61 L163.05 634.22 L165.08 633.82 L167.11 633.42 L169.14 633.02 L171.17 632.61 L173.20 632.21 L175.22 631.81 L177.25 631.40 L179.28 631.00 L181.31 630.59 L183.34 630.19 L185.37 629.79 L187.39 629.39 L189.42 628.99 L191.45 628.60 L193.48 628.21 L195.51 627.82 L197.53 627.42 L199.56 627.03 L201.59 626.63 L203.62 626.24 L205.65 625.84 L207.68 625.45 L209.70 625.05 L211.73 624.65 L213.76 624.26 L215.79 623.87 L217.82 623.47 L219.85 623.08 L221.87 622.69 L223.90 622.29 L225.93 621.91 L227.96 621.52 L229.99 621.13 L232.02 620.74 L234.04 620.36 L236.07 619.98 L238.10 619.60 L240.13 619.22 L242.16 618.85 L244.18 618.47 L246.21 618.10 L248.24 617.72 L250.27 617.35 L252.30 616.98 L254.33 616.61 L256.35 616.24 L258.38 615.87 L260.41 615.51 L262.44 615.14 L264.47 614.78 L266.50 614.42 L268.52 614.05 L270.55 613.69 L272.58 613.33 L274.61 612.98 L276.64 612.62 L278.67 612.26 L280.69 611.91 L282.72 611.55 L284.75 611.20 L286.79 610.85 L288.86 610.49 L290.95 610.13 L293.06 609.78 L295.18 609.42 L297.31 609.06 L299.45 608.70 L301.59 608.34 L303.73 607.99 L305.86 607.63 L307.99 607.28 L310.10 606.93 L312.20 606.59 L314.27 606.24 L316.32 605.90 L318.35 605.57 L320.34 605.24 L322.29 604.92 L324.21 604.60 L326.08 604.29 L327.91 603.99 L329.68 603.69 L331.40 603.40 L333.99 602.96 L336.56 602.53 L339.11 602.10 L341.62 601.67 L344.07 601.25 L346.45 600.85 L348.75 600.45 L350.95 600.08 L353.05 599.72 L355.01 599.38 L356.84 599.07 L358.52 598.78 L360.03 598.52 L361.36 598.29 L362.50 598.10" stroke-width="1" stroke-dasharray="2.6 4.4" stroke-linecap="butt"/>
<path transform="translate(0 0.4)" d="M51.50 654.25 L52.60 654.13 L53.87 653.99 L55.28 653.83 L56.84 653.66 L58.54 653.48 L60.35 653.28 L62.26 653.08 L64.28 652.86 L66.37 652.63 L68.54 652.39 L70.77 652.15 L73.06 651.90 L75.38 651.64 L77.72 651.38 L80.08 651.11 L82.45 650.84 L84.81 650.56 L87.15 650.29 L89.45 650.01 L91.72 649.73 L93.93 649.45 L96.08 649.17 L98.15 648.90 L100.18 648.63 L102.21 648.35 L104.23 648.07 L106.26 647.78 L108.29 647.49 L110.32 647.20 L112.35 646.91 L114.38 646.61 L116.40 646.31 L118.43 646.00 L120.46 645.69 L122.49 645.38 L124.52 645.06 L126.55 644.74 L128.57 644.42 L130.60 644.09 L132.63 643.76 L134.66 643.43 L136.69 643.09 L138.72 642.75 L140.74 642.40 L142.77 642.05 L144.80 641.70 L146.83 641.34 L148.86 640.98 L150.88 640.61 L152.91 640.23 L154.94 639.85 L156.97 639.46 L159.00 639.07 L161.03 638.68 L163.05 638.28 L165.08 637.88 L167.11 637.47 L169.14 637.07 L171.17 636.66 L173.20 636.25 L175.22 635.84 L177.25 635.43 L179.28 635.02 L181.31 634.61 L183.34 634.21 L185.37 633.80 L187.39 633.40 L189.42 633.00 L191.45 632.60 L193.48 632.20 L195.51 631.81 L197.53 631.41 L199.56 631.01 L201.59 630.61 L203.62 630.21 L205.65 629.81 L207.68 629.42 L209.70 629.02 L211.73 628.62 L213.76 628.22 L215.79 627.82 L217.82 627.42 L219.85 627.02 L221.87 626.63 L223.90 626.23 L225.93 625.84 L227.96 625.44 L229.99 625.05 L232.02 624.66 L234.04 624.27 L236.07 623.89 L238.10 623.50 L240.12 623.12 L242.13 622.73 L244.12 622.35 L246.11 621.98 L248.08 621.60 L250.05 621.22 L252.02 620.85 L253.99 620.47 L255.95 620.10 L257.92 619.73 L259.90 619.36 L261.88 618.99 L263.87 618.62 L265.87 618.25 L267.89 617.88 L269.92 617.50 L271.97 617.13 L274.04 616.76 L276.13 616.39 L278.24 616.02 L280.38 615.65 L282.55 615.27 L284.75 614.90 L286.60 614.59 L288.38 614.29 L290.09 614.00 L291.76 613.72 L293.39 613.45 L294.99 613.18 L296.57 612.92 L298.14 612.66 L299.71 612.40 L301.29 612.14 L302.90 611.89 L304.54 611.62 L306.22 611.36 L307.95 611.08 L309.75 610.80 L311.62 610.51 L313.58 610.21 L315.62 609.90 L317.78 609.57 L320.05 609.23 L322.44 608.87 L324.97 608.49 L327.64 608.09 L330.47 607.66 L333.47 607.22 L336.64 606.75 L340.00 606.25 L341.46 606.03 L342.98 605.81 L344.54 605.58 L346.15 605.34 L347.81 605.09 L349.52 604.84 L351.26 604.58 L353.05 604.32 L354.88 604.05 L356.75 603.77 L358.66 603.49 L360.60 603.21 L362.57 602.91 L364.58 602.62 L366.62 602.32 L368.68 602.01 L370.77 601.70 L372.89 601.39 L375.04 601.08 L377.20 600.76 L379.39 600.44 L381.59 600.11 L383.82 599.79 L386.05 599.46 L388.31 599.13 L390.57 598.79 L392.85 598.46 L395.13 598.13 L397.43 597.79 L399.73 597.46 L402.03 597.12 L404.34 596.78 L406.64 596.45 L408.95 596.11 L411.26 595.78 L413.56 595.44 L415.86 595.11 L418.15 594.78 L420.43 594.45 L422.70 594.12 L424.96 593.80 L427.20 593.47 L429.43 593.15 L431.65 592.84 L433.84 592.52 L436.02 592.21 L438.17 591.90 L440.30 591.60 L442.41 591.30 L444.49 591.01 L446.54 590.72 L448.56 590.43 L450.55 590.15 L452.51 589.88 L454.43 589.61 L456.32 589.35 L458.17 589.09 L459.98 588.84 L461.74 588.60 L463.47 588.36 L465.15 588.14 L466.79 587.92 L468.37 587.70 L469.91 587.50 L471.40 587.30 L474.60 586.88 L477.67 586.49 L480.60 586.12 L483.41 585.78 L486.10 585.46 L488.67 585.15 L491.13 584.87 L493.50 584.61 L495.76 584.37 L497.93 584.14 L500.02 583.92 L502.03 583.72 L503.97 583.53 L505.84 583.36 L507.65 583.19 L509.41 583.03 L511.12 582.88 L512.78 582.74 L514.41 582.60 L516.01 582.46 L517.58 582.33 L519.14 582.19 L520.68 582.06 L522.21 581.93 L523.75 581.79 L525.29 581.65 L526.84 581.51 L528.41 581.36 L530.00 581.20 L532.64 580.93 L535.09 580.67 L537.37 580.43 L539.51 580.19 L541.53 579.97 L543.46 579.76 L545.30 579.56 L547.10 579.36 L548.86 579.18 L550.61 579.00 L552.38 578.83 L554.18 578.66 L556.04 578.50 L557.98 578.34 L560.02 578.19 L562.19 578.05 L564.50 577.90 L566.31 577.80 L568.19 577.69 L570.14 577.60 L572.15 577.50 L574.21 577.41 L576.31 577.33 L578.45 577.25 L580.62 577.17 L582.81 577.09 L585.01 577.02 L587.22 576.95 L589.42 576.88 L591.62 576.81 L593.80 576.75 L595.95 576.69 L598.07 576.64 L600.16 576.58 L602.19 576.53 L604.17 576.48 L606.09 576.43 L607.94 576.39 L609.71 576.34 L611.40 576.30 L614.07 576.24 L616.70 576.19 L619.25 576.14 L621.74 576.11 L624.14 576.08 L626.44 576.06 L628.63 576.05 L630.70 576.04 L632.65 576.03 L634.45 576.03 L636.09 576.02 L637.58 576.02 L638.88 576.01 L640.00 576.00" stroke-width="1.3" stroke="#7f95b5" stroke-opacity="0.75"/>
<path transform="translate(0 0.4)" d="M51.50 654.25 L52.60 654.13 L53.87 653.99 L55.28 653.83 L56.84 653.66 L58.54 653.48 L60.35 653.28 L62.26 653.08 L64.28 652.86 L66.37 652.63 L68.54 652.39 L70.77 652.15 L73.06 651.90 L75.38 651.64 L77.72 651.38 L80.08 651.11 L82.45 650.84 L84.81 650.56 L87.15 650.29 L89.45 650.01 L91.72 649.73 L93.93 649.45 L96.08 649.17 L98.15 648.90 L100.18 648.63 L102.21 648.35 L104.23 648.07 L106.26 647.78 L108.29 647.49 L110.32 647.20 L112.35 646.91 L114.38 646.61 L116.40 646.31 L118.43 646.00 L120.46 645.69 L122.49 645.38 L124.52 645.06 L126.55 644.74 L128.57 644.42 L130.60 644.09 L132.63 643.76 L134.66 643.43 L136.69 643.09 L138.72 642.75 L140.74 642.40 L142.77 642.05 L144.80 641.70 L146.83 641.34 L148.86 640.98 L150.88 640.61 L152.91 640.23 L154.94 639.85 L156.97 639.46 L159.00 639.07 L161.03 638.68 L163.05 638.28 L165.08 637.88 L167.11 637.47 L169.14 637.07 L171.17 636.66 L173.20 636.25 L175.22 635.84 L177.25 635.43 L179.28 635.02 L181.31 634.61 L183.34 634.21 L185.37 633.80 L187.39 633.40 L189.42 633.00 L191.45 632.60 L193.48 632.20 L195.51 631.81 L197.53 631.41 L199.56 631.01 L201.59 630.61 L203.62 630.21 L205.65 629.81 L207.68 629.42 L209.70 629.02 L211.73 628.62 L213.76 628.22 L215.79 627.82 L217.82 627.42 L219.85 627.02 L221.87 626.63 L223.90 626.23 L225.93 625.84 L227.96 625.44 L229.99 625.05 L232.02 624.66 L234.04 624.27 L236.07 623.89 L238.10 623.50 L240.12 623.12 L242.13 622.73 L244.12 622.35 L246.11 621.98 L248.08 621.60 L250.05 621.22 L252.02 620.85 L253.99 620.47 L255.95 620.10 L257.92 619.73 L259.90 619.36 L261.88 618.99 L263.87 618.62 L265.87 618.25 L267.89 617.88 L269.92 617.50 L271.97 617.13 L274.04 616.76 L276.13 616.39 L278.24 616.02 L280.38 615.65 L282.55 615.27 L284.75 614.90 L286.60 614.59 L288.38 614.29 L290.09 614.00 L291.76 613.72 L293.39 613.45 L294.99 613.18 L296.57 612.92 L298.14 612.66 L299.71 612.40 L301.29 612.14 L302.90 611.89 L304.54 611.62 L306.22 611.36 L307.95 611.08 L309.75 610.80 L311.62 610.51 L313.58 610.21 L315.62 609.90 L317.78 609.57 L320.05 609.23 L322.44 608.87 L324.97 608.49 L327.64 608.09 L330.47 607.66 L333.47 607.22 L336.64 606.75 L340.00 606.25 L341.46 606.03 L342.98 605.81 L344.54 605.58 L346.15 605.34 L347.81 605.09 L349.52 604.84 L351.26 604.58 L353.05 604.32 L354.88 604.05 L356.75 603.77 L358.66 603.49 L360.60 603.21 L362.57 602.91 L364.58 602.62" stroke-width="1" stroke-dasharray="2.6 4.4" stroke-linecap="butt"/>
<path transform="translate(0 0.4)" d="M51.50 656.25 L52.60 656.13 L53.87 655.98 L55.28 655.83 L56.84 655.66 L58.54 655.48 L60.35 655.28 L62.26 655.07 L64.28 654.86 L66.37 654.63 L68.54 654.39 L70.77 654.15 L73.06 653.90 L75.38 653.64 L77.72 653.37 L80.08 653.11 L82.45 652.83 L84.81 652.56 L87.15 652.28 L89.45 652.00 L91.72 651.73 L93.93 651.45 L96.08 651.17 L98.15 650.90 L100.18 650.63 L102.21 650.35 L104.23 650.07 L106.26 649.79 L108.29 649.50 L110.32 649.21 L112.35 648.92 L114.38 648.62 L116.40 648.32 L118.43 648.02 L120.46 647.71 L122.49 647.40 L124.52 647.09 L126.55 646.77 L128.57 646.45 L130.60 646.12 L132.63 645.80 L134.66 645.46 L136.69 645.13 L138.72 644.79 L140.74 644.45 L142.77 644.10 L144.80 643.75 L146.83 643.39 L148.86 643.03 L150.88 642.66 L152.91 642.29 L154.94 641.91 L156.97 641.53 L159.00 641.14 L161.03 640.74 L163.05 640.35 L165.08 639.95 L167.11 639.55 L169.14 639.14 L171.17 638.74 L173.20 638.33 L175.22 637.93 L177.25 637.52 L179.28 637.11 L181.31 636.71 L183.34 636.30 L185.37 635.90 L187.39 635.50 L189.42 635.10 L191.45 634.70 L193.48 634.30 L195.51 633.91 L197.53 633.51 L199.56 633.11 L201.59 632.72 L203.62 632.32 L205.65 631.92 L207.68 631.52 L209.70 631.12 L211.73 630.72 L213.76 630.32 L215.79 629.92 L217.82 629.52 L219.85 629.13 L221.87 628.73 L223.90 628.33 L225.93 627.94 L227.96 627.55 L229.99 627.15 L232.02 626.76 L234.04 626.37 L236.07 625.99 L238.10 625.60 L240.13 625.21 L242.16 624.83 L244.18 624.44 L246.21 624.05 L248.24 623.65 L250.27 623.26 L252.30 622.87 L254.33 622.48 L256.35 622.09 L258.38 621.70 L260.41 621.32 L262.44 620.93 L264.47 620.55 L266.50 620.18 L268.52 619.80 L270.55 619.43 L272.58 619.07 L274.61 618.71 L276.64 618.35 L278.67 618.00 L280.69 617.66 L282.72 617.33 L284.75 617.00 L286.79 616.68 L288.86 616.36 L290.95 616.05 L293.06 615.74 L295.18 615.44 L297.31 615.14 L299.45 614.84 L301.59 614.55 L303.73 614.27 L305.86 613.98 L307.99 613.71 L310.10 613.43 L312.20 613.16 L314.27 612.90 L316.32 612.64 L318.35 612.38 L320.34 612.13 L322.29 611.88 L324.21 611.64 L326.08 611.40 L327.91 611.16 L329.68 610.93 L331.40 610.70 L333.99 610.35 L336.56 610.01 L339.11 609.67 L341.62 609.34 L344.07 609.02 L346.45 608.70 L348.75 608.40 L350.95 608.11 L353.05 607.84 L355.01 607.58 L356.84 607.34 L358.52 607.12 L360.03 606.92 L361.36 606.75 L362.50 606.60" stroke-width="1.3" stroke="#7f95b5" stroke-opacity="0.75"/>
<path transform="translate(0 0.4)" d="M51.50 656.25 L52.60 656.13 L53.87 655.98 L55.28 655.83 L56.84 655.66 L58.54 655.48 L60.35 655.28 L62.26 655.07 L64.28 654.86 L66.37 654.63 L68.54 654.39 L70.77 654.15 L73.06 653.90 L75.38 653.64 L77.72 653.37 L80.08 653.11 L82.45 652.83 L84.81 652.56 L87.15 652.28 L89.45 652.00 L91.72 651.73 L93.93 651.45 L96.08 651.17 L98.15 650.90 L100.18 650.63 L102.21 650.35 L104.23 650.07 L106.26 649.79 L108.29 649.50 L110.32 649.21 L112.35 648.92 L114.38 648.62 L116.40 648.32 L118.43 648.02 L120.46 647.71 L122.49 647.40 L124.52 647.09 L126.55 646.77 L128.57 646.45 L130.60 646.12 L132.63 645.80 L134.66 645.46 L136.69 645.13 L138.72 644.79 L140.74 644.45 L142.77 644.10 L144.80 643.75 L146.83 643.39 L148.86 643.03 L150.88 642.66 L152.91 642.29 L154.94 641.91 L156.97 641.53 L159.00 641.14 L161.03 640.74 L163.05 640.35 L165.08 639.95 L167.11 639.55 L169.14 639.14 L171.17 638.74 L173.20 638.33 L175.22 637.93 L177.25 637.52 L179.28 637.11 L181.31 636.71 L183.34 636.30 L185.37 635.90 L187.39 635.50 L189.42 635.10 L191.45 634.70 L193.48 634.30 L195.51 633.91 L197.53 633.51 L199.56 633.11 L201.59 632.72 L203.62 632.32 L205.65 631.92 L207.68 631.52 L209.70 631.12 L211.73 630.72 L213.76 630.32 L215.79 629.92 L217.82 629.52 L219.85 629.13 L221.87 628.73 L223.90 628.33 L225.93 627.94 L227.96 627.55 L229.99 627.15 L232.02 626.76 L234.04 626.37 L236.07 625.99 L238.10 625.60 L240.13 625.21 L242.16 624.83 L244.18 624.44 L246.21 624.05 L248.24 623.65 L250.27 623.26 L252.30 622.87 L254.33 622.48 L256.35 622.09 L258.38 621.70 L260.41 621.32 L262.44 620.93 L264.47 620.55 L266.50 620.18 L268.52 619.80 L270.55 619.43 L272.58 619.07 L274.61 618.71 L276.64 618.35 L278.67 618.00 L280.69 617.66 L282.72 617.33 L284.75 617.00 L286.79 616.68 L288.86 616.36 L290.95 616.05 L293.06 615.74 L295.18 615.44 L297.31 615.14 L299.45 614.84 L301.59 614.55 L303.73 614.27 L305.86 613.98 L307.99 613.71 L310.10 613.43 L312.20 613.16 L314.27 612.90 L316.32 612.64 L318.35 612.38 L320.34 612.13 L322.29 611.88 L324.21 611.64 L326.08 611.40 L327.91 611.16 L329.68 610.93 L331.40 610.70 L333.99 610.35 L336.56 610.01 L339.11 609.67 L341.62 609.34 L344.07 609.02 L346.45 608.70 L348.75 608.40 L350.95 608.11 L353.05 607.84 L355.01 607.58 L356.84 607.34 L358.52 607.12 L360.03 606.92 L361.36 606.75 L362.50 606.60" stroke-width="1" stroke-dasharray="2.6 4.4" stroke-linecap="butt"/>
<path d="M368.10 593.50 L369.16 593.34 L370.31 593.17 L371.56 592.99 L372.89 592.79 L374.30 592.58 L375.80 592.36 L377.36 592.13 L379.01 591.89 L380.72 591.63 L382.50 591.36 L384.34 591.09 L386.25 590.81 L388.20 590.51 L390.22 590.21 L392.28 589.91 L394.39 589.59 L396.54 589.27 L398.73 588.94 L400.96 588.61 L403.22 588.28 L405.51 587.93 L407.82 587.59 L410.16 587.24 L412.52 586.89 L414.89 586.54 L417.28 586.19 L419.68 585.83 L422.08 585.48 L424.49 585.12 L426.90 584.77 L429.30 584.41 L431.70 584.06 L434.08 583.71 L436.45 583.36 L438.81 583.02 L441.14 582.68 L443.45 582.34 L445.73 582.01 L447.98 581.69 L450.20 581.37 L452.38 581.06 L454.52 580.75 L456.62 580.45 L458.67 580.16 L460.66 579.88 L462.61 579.61 L464.49 579.34 L466.32 579.09 L468.08 578.85 L469.78 578.62 L471.40 578.40 L474.15 578.03 L476.83 577.68 L479.44 577.35 L481.97 577.03 L484.44 576.72 L486.84 576.43 L489.18 576.15 L491.46 575.88 L493.69 575.62 L495.85 575.37 L497.97 575.13 L500.04 574.90 L502.05 574.68 L504.03 574.47 L505.96 574.27 L507.85 574.07 L509.71 573.88 L511.53 573.69 L513.32 573.51 L515.08 573.33 L516.81 573.16 L518.52 572.98 L520.20 572.81 L521.87 572.64 L523.52 572.48 L525.15 572.31 L526.78 572.14 L528.39 571.97 L530.00 571.80 L532.68 571.51 L535.24 571.24 L537.69 570.99 L540.04 570.75 L542.29 570.52 L544.46 570.31 L546.55 570.10 L548.56 569.91 L550.50 569.72 L552.39 569.54 L554.22 569.37 L556.00 569.20 L557.75 569.04 L559.47 568.88 L561.16 568.72 L562.84 568.56 L564.50 568.40 L567.05 568.16 L569.56 567.92 L572.00 567.70 L574.35 567.49 L576.58 567.28 L578.69 567.09 L580.65 566.92 L582.42 566.76 L584.01 566.62 L585.37 566.50 L586.50 566.40 L689.60 566.40 L876.00 566.40" stroke-width="2.4"/>
<path d="M362.50 598.10 L363.55 597.95 L364.70 597.79 L365.93 597.61 L367.24 597.42 L368.63 597.22 L370.10 597.01 L371.64 596.79 L373.25 596.56 L374.93 596.31 L376.67 596.06 L378.48 595.80 L380.35 595.53 L382.27 595.25 L384.24 594.96 L386.26 594.67 L388.33 594.37 L390.44 594.06 L392.60 593.75 L394.79 593.43 L397.01 593.11 L399.27 592.78 L401.55 592.45 L403.86 592.12 L406.19 591.78 L408.54 591.44 L410.91 591.10 L413.29 590.76 L415.68 590.41 L418.07 590.07 L420.47 589.72 L422.88 589.38 L425.28 589.04 L427.67 588.70 L430.06 588.36 L432.43 588.02 L434.79 587.69 L437.14 587.35 L439.46 587.03 L441.76 586.70 L444.03 586.39 L446.28 586.07 L448.49 585.77 L450.67 585.47 L452.80 585.17 L454.90 584.88 L456.95 584.60 L458.96 584.33 L460.91 584.07 L462.81 583.82 L464.65 583.57 L466.44 583.34 L468.16 583.11 L469.81 582.90 L471.40 582.70 L474.24 582.35 L477.00 582.01 L479.67 581.70 L482.26 581.40 L484.77 581.12 L487.21 580.85 L489.57 580.60 L491.87 580.36 L494.10 580.14 L496.27 579.93 L498.38 579.73 L500.43 579.54 L502.44 579.36 L504.39 579.18 L506.30 579.02 L508.16 578.86 L509.99 578.71 L511.78 578.56 L513.54 578.42 L515.26 578.28 L516.96 578.14 L518.64 578.00 L520.30 577.86 L521.94 577.73 L523.56 577.59 L525.18 577.45 L526.79 577.30 L528.40 577.15 L530.00 577.00 L532.64 576.74 L535.09 576.49 L537.37 576.26 L539.51 576.04 L541.53 575.83 L543.46 575.63 L545.30 575.43 L547.10 575.24 L548.86 575.06 L550.61 574.88 L552.38 574.70 L554.18 574.52 L556.04 574.34 L557.98 574.16 L560.02 573.98 L562.19 573.79 L564.50 573.60 L566.30 573.45 L568.16 573.31 L570.07 573.16 L572.02 573.01 L574.02 572.86 L576.06 572.71 L578.13 572.56 L580.22 572.41 L582.34 572.26 L584.47 572.11 L586.62 571.96 L588.77 571.81 L590.92 571.67 L593.07 571.52 L595.21 571.38 L597.34 571.23 L599.44 571.09 L601.53 570.96 L603.58 570.82 L605.60 570.69 L607.58 570.55 L609.51 570.43 L611.40 570.30 L613.63 570.15 L615.81 570.00 L617.95 569.86 L620.05 569.71 L622.13 569.57 L624.17 569.43 L626.19 569.30 L628.19 569.16 L630.17 569.03 L632.14 568.90 L634.10 568.78 L636.06 568.66 L638.02 568.54 L639.98 568.42 L641.95 568.31 L643.94 568.20 L645.94 568.10 L647.96 568.00 L650.00 567.90 L651.87 567.81 L653.40 567.71 L654.66 567.63 L655.70 567.54 L656.60 567.46 L657.42 567.37 L658.22 567.30 L659.07 567.22 L660.02 567.15 L661.15 567.09 L662.52 567.02 L664.18 566.97 L666.21 566.91 L668.67 566.86 L671.61 566.82 L675.12 566.78 L679.24 566.75 L684.05 566.72 L689.60 566.70 L690.84 566.70 L692.14 566.69 L693.49 566.69 L694.89 566.69 L696.34 566.69 L697.84 566.69 L699.39 566.68 L700.99 566.68 L702.63 566.68 L704.32 566.68 L706.05 566.68 L707.82 566.68 L709.63 566.69 L711.48 566.69 L713.37 566.69 L715.30 566.69 L717.26 566.69 L719.25 566.70 L721.28 566.70 L723.34 566.70 L725.44 566.71 L727.56 566.71 L729.71 566.72 L731.88 566.72 L734.08 566.73 L736.31 566.73 L738.56 566.74 L740.83 566.74 L743.12 566.75 L745.43 566.75 L747.76 566.76 L750.11 566.77 L752.47 566.77 L754.85 566.78 L757.24 566.79 L759.64 566.79 L762.05 566.80 L764.48 566.81 L766.91 566.82 L769.34 566.82 L771.79 566.83 L774.24 566.84 L776.69 566.85 L779.14 566.85 L781.59 566.86 L784.05 566.87 L786.50 566.88 L788.95 566.89 L791.39 566.90 L793.83 566.90 L796.27 566.91 L798.69 566.92 L801.11 566.93 L803.51 566.94 L805.91 566.95 L808.29 566.96 L810.66 566.96 L813.01 566.97 L815.34 566.98 L817.66 566.99 L819.96 567.00 L822.24 567.01 L824.49 567.02 L826.73 567.02 L828.94 567.03 L831.12 567.04 L833.28 567.05 L835.41 567.06 L837.51 567.06 L839.58 567.07 L841.62 567.08 L843.63 567.09 L845.60 567.09 L847.54 567.10 L849.44 567.11 L851.30 567.12 L853.12 567.12 L854.91 567.13 L856.65 567.14 L858.35 567.14 L860.01 567.15 L861.62 567.15 L863.18 567.16 L864.70 567.16 L866.17 567.17 L867.58 567.17 L868.95 567.18 L870.26 567.18 L871.52 567.19 L872.73 567.19 L873.88 567.19 L874.97 567.20 L876.00 567.20" stroke-width="3.3"/>
<path d="M640 576.0L876 576.1" stroke-width="1.6"/>
<path d="M362.50 606.60 L363.55 606.46 L364.70 606.30 L365.93 606.13 L367.24 605.96 L368.63 605.77 L370.10 605.56 L371.64 605.35 L373.25 605.13 L374.93 604.90 L376.67 604.66 L378.48 604.41 L380.35 604.15 L382.27 603.89 L384.24 603.62 L386.26 603.34 L388.33 603.05 L390.44 602.76 L392.60 602.46 L394.79 602.16 L397.01 601.85 L399.27 601.54 L401.55 601.23 L403.86 600.91 L406.19 600.59 L408.54 600.27 L410.91 599.94 L413.29 599.62 L415.68 599.29 L418.07 598.96 L420.47 598.64 L422.88 598.31 L425.28 597.98 L427.67 597.66 L430.06 597.33 L432.43 597.01 L434.79 596.69 L437.14 596.38 L439.46 596.06 L441.76 595.76 L444.03 595.45 L446.28 595.15 L448.49 594.86 L450.67 594.57 L452.80 594.29 L454.90 594.01 L456.95 593.74 L458.96 593.48 L460.91 593.23 L462.81 592.98 L464.65 592.75 L466.44 592.52 L468.16 592.30 L469.81 592.10 L471.40 591.90 L474.24 591.55 L477.00 591.22 L479.67 590.91 L482.26 590.61 L484.77 590.33 L487.21 590.06 L489.57 589.80 L491.87 589.56 L494.10 589.33 L496.27 589.11 L498.38 588.89 L500.43 588.69 L502.44 588.50 L504.39 588.31 L506.30 588.14 L508.16 587.97 L509.99 587.80 L511.78 587.64 L513.54 587.48 L515.26 587.33 L516.96 587.18 L518.64 587.04 L520.30 586.89 L521.94 586.74 L523.56 586.60 L525.18 586.45 L526.79 586.30 L528.40 586.15 L530.00 586.00 L532.64 585.75 L535.09 585.51 L537.37 585.29 L539.51 585.08 L541.53 584.89 L543.46 584.71 L545.30 584.54 L547.10 584.37 L548.86 584.21 L550.61 584.06 L552.38 583.90 L554.18 583.75 L556.04 583.59 L557.98 583.43 L560.02 583.26 L562.19 583.09 L564.50 582.90 L566.30 582.76 L568.16 582.61 L570.07 582.46 L572.02 582.31 L574.02 582.15 L576.06 582.00 L578.13 581.84 L580.22 581.68 L582.34 581.52 L584.47 581.36 L586.62 581.20 L588.77 581.05 L590.92 580.89 L593.07 580.74 L595.21 580.58 L597.34 580.43 L599.44 580.29 L601.53 580.14 L603.58 580.01 L605.60 579.87 L607.58 579.74 L609.51 579.62 L611.40 579.50 L613.63 579.36 L615.81 579.23 L617.95 579.11 L620.05 578.99 L622.13 578.88 L624.17 578.77 L626.19 578.67 L628.19 578.57 L630.17 578.47 L632.14 578.38 L634.10 578.29 L636.06 578.20 L638.02 578.11 L639.98 578.03 L641.95 577.94 L643.94 577.86 L645.94 577.77 L647.96 577.69 L650.00 577.60 L651.87 577.51 L653.40 577.42 L654.66 577.33 L655.70 577.24 L656.60 577.16 L657.42 577.07 L658.22 576.98 L659.07 576.89 L660.02 576.81 L661.15 576.73 L662.52 576.65 L664.18 576.58 L666.21 576.51 L668.67 576.44 L671.61 576.38 L675.12 576.33 L679.24 576.28 L684.05 576.24 L689.60 576.20 L690.84 576.19 L692.14 576.19 L693.49 576.18 L694.89 576.18 L696.34 576.17 L697.84 576.17 L699.39 576.16 L700.99 576.16 L702.63 576.16 L704.32 576.15 L706.05 576.15 L707.82 576.15 L709.63 576.15 L711.48 576.15 L713.37 576.14 L715.30 576.14 L717.26 576.14 L719.25 576.14 L721.28 576.14 L723.34 576.14 L725.44 576.14 L727.56 576.14 L729.71 576.14 L731.88 576.14 L734.08 576.14 L736.31 576.15 L738.56 576.15 L740.83 576.15 L743.12 576.15 L745.43 576.15 L747.76 576.16 L750.11 576.16 L752.47 576.16 L754.85 576.16 L757.24 576.17 L759.64 576.17 L762.05 576.17 L764.48 576.18 L766.91 576.18 L769.34 576.18 L771.79 576.19 L774.24 576.19 L776.69 576.20 L779.14 576.20 L781.59 576.21 L784.05 576.21 L786.50 576.21 L788.95 576.22 L791.39 576.22 L793.83 576.23 L796.27 576.23 L798.69 576.24 L801.11 576.24 L803.51 576.25 L805.91 576.25 L808.29 576.26 L810.66 576.26 L813.01 576.27 L815.34 576.27 L817.66 576.28 L819.96 576.28 L822.24 576.29 L824.49 576.29 L826.73 576.30 L828.94 576.30 L831.12 576.31 L833.28 576.31 L835.41 576.32 L837.51 576.32 L839.58 576.33 L841.62 576.33 L843.63 576.34 L845.60 576.34 L847.54 576.35 L849.44 576.35 L851.30 576.35 L853.12 576.36 L854.91 576.36 L856.65 576.37 L858.35 576.37 L860.01 576.37 L861.62 576.38 L863.18 576.38 L864.70 576.38 L866.17 576.38 L867.58 576.39 L868.95 576.39 L870.26 576.39 L871.52 576.39 L872.73 576.40 L873.88 576.40 L874.97 576.40 L876.00 576.40" stroke-width="2.6"/>
<path d="M51.5 688.3L165.6 685.8" stroke-width="1.1" stroke-opacity="0.6"/>
<path d="M51.5 690.2L165.6 687.9" stroke-width="1.1" stroke-opacity="0.6"/>
<path d="M165.6 685.3L355.5 684.0" stroke-width="2.1"/>
<path d="M165.6 687.5L355.5 686.2" stroke-width="1" stroke-opacity="0.75"/>
</g>
<g fill="none" stroke="#000" stroke-linecap="round" stroke-linejoin="round">
<path d="M165.6 690.0L290 689.7L355.5 687.7" stroke-width="2.1"/>
<path d="M344 672.3L363 672.5" stroke-width="1.1"/>
<path d="M363.50 673.00 L364.54 673.00 L365.63 673.00 L366.79 673.00 L368.01 673.00 L369.29 673.00 L370.63 673.01 L372.02 673.01 L373.46 673.01 L374.96 673.01 L376.50 673.01 L378.10 673.01 L379.74 673.01 L381.43 673.01 L383.17 673.02 L384.94 673.02 L386.76 673.02 L388.62 673.02 L390.51 673.02 L392.45 673.02 L394.41 673.03 L396.42 673.03 L398.45 673.03 L400.51 673.03 L402.61 673.03 L404.73 673.03 L406.87 673.04 L409.04 673.04 L411.24 673.04 L413.45 673.04 L415.69 673.04 L417.94 673.04 L420.21 673.05 L422.50 673.05 L424.79 673.05 L427.10 673.05 L429.42 673.05 L431.75 673.06 L434.09 673.06 L436.44 673.06 L438.78 673.06 L441.13 673.06 L443.48 673.06 L445.84 673.07 L448.18 673.07 L450.53 673.07 L452.87 673.07 L455.21 673.07 L457.53 673.07 L459.85 673.08 L462.15 673.08 L464.45 673.08 L466.73 673.08 L468.99 673.08 L471.24 673.08 L473.46 673.09 L475.67 673.09 L477.85 673.09 L480.02 673.09 L482.15 673.09 L484.26 673.09 L486.34 673.09 L488.40 673.09 L490.42 673.10 L492.40 673.10 L494.36 673.10 L496.28 673.10 L498.16 673.10 L500.00 673.10 L502.26 673.10 L504.53 673.10 L506.80 673.10 L509.09 673.10 L511.38 673.10 L513.67 673.11 L515.97 673.11 L518.27 673.11 L520.58 673.11 L522.89 673.11 L525.19 673.11 L527.50 673.11 L529.81 673.11 L532.11 673.11 L534.41 673.12 L536.70 673.12 L538.99 673.12 L541.27 673.12 L543.54 673.12 L545.80 673.12 L548.06 673.12 L550.30 673.12 L552.53 673.12 L554.75 673.12 L556.95 673.12 L559.14 673.12 L561.31 673.12 L563.46 673.13 L565.60 673.13 L567.71 673.13 L569.81 673.13 L571.88 673.13 L573.94 673.13 L575.97 673.13 L577.97 673.13 L579.95 673.13 L581.90 673.13 L583.82 673.13 L585.72 673.12 L587.58 673.12 L589.42 673.12 L591.22 673.12 L592.99 673.12 L594.73 673.12 L596.43 673.12 L598.10 673.12 L599.73 673.12 L601.32 673.12 L602.87 673.11 L604.38 673.11 L605.85 673.11 L607.28 673.11 L608.66 673.11 L610.00 673.10 L611.30 673.10 L615.92 673.09 L619.83 673.08 L623.11 673.06 L625.83 673.05 L628.08 673.04 L629.94 673.02 L631.48 673.00 L632.78 672.98 L633.93 672.96 L634.99 672.93 L636.05 672.90 L637.18 672.87 L638.48 672.84 L640.00 672.80 L642.40 672.74 L644.46 672.67 L646.29 672.60 L647.99 672.53 L649.65 672.44 L651.39 672.35 L653.29 672.25 L655.46 672.13 L658.00 672.00 L659.75 671.91 L661.66 671.82 L663.72 671.71 L665.88 671.60 L668.14 671.49 L670.46 671.37 L672.81 671.25 L675.17 671.13 L677.50 671.00 L679.79 670.88 L682.01 670.76 L684.12 670.64 L686.11 670.52 L687.95 670.41 L689.60 670.30 L692.34 670.10 L694.17 669.93 L695.53 669.78 L696.83 669.62 L698.49 669.43 L700.94 669.20 L704.60 668.90 L706.00 668.79 L707.51 668.68 L709.12 668.56 L710.83 668.44 L712.63 668.30 L714.51 668.17 L716.47 668.03 L718.48 667.88 L720.56 667.73 L722.68 667.58 L724.85 667.43 L727.05 667.27 L729.28 667.12 L731.52 666.96 L733.78 666.80 L736.03 666.64 L738.28 666.49 L740.52 666.33 L742.74 666.18 L744.93 666.03 L747.08 665.88 L749.19 665.74 L751.25 665.60 L753.28 665.46 L755.31 665.33 L757.34 665.19 L759.36 665.06 L761.39 664.93 L763.42 664.80 L765.45 664.66 L767.48 664.53 L769.51 664.40 L771.54 664.27 L773.56 664.15 L775.59 664.02 L777.62 663.89 L779.65 663.76 L781.68 663.63 L783.71 663.50 L785.73 663.38 L787.76 663.25 L789.79 663.12 L791.82 662.99 L793.85 662.86 L795.87 662.73 L797.90 662.60 L799.94 662.47 L802.01 662.33 L804.09 662.20 L806.20 662.06 L808.31 661.92 L810.44 661.78 L812.57 661.65 L814.71 661.51 L816.84 661.37 L818.97 661.23 L821.09 661.09 L823.20 660.95 L825.29 660.81 L827.36 660.68 L829.41 660.55 L831.43 660.42 L833.42 660.29 L835.38 660.17 L837.29 660.04 L839.17 659.93 L841.00 659.81 L842.77 659.70 L844.50 659.60 L847.10 659.45 L849.70 659.30 L852.27 659.15 L854.80 659.01 L857.29 658.87 L859.70 658.74 L862.03 658.62 L864.27 658.51 L866.39 658.40 L868.39 658.29 L870.25 658.20 L871.96 658.11 L873.49 658.03 L874.85 657.96 L876.00 657.90" stroke-width="3.6"/>
</g>
<circle cx="689.6" cy="566.4" r="6.2" fill="#f00"/>
<circle cx="689.6" cy="576.1" r="6.2" fill="#f00"/>
<circle cx="689.6" cy="670.5" r="6.2" fill="#f00"/>
<g stroke="#000" fill="none" stroke-width="1.6">
<path d="M51 517.30V693.00" stroke-width="2"/>
<path d="M959.05 517.30V693.00" stroke-width="2"/>
<path d="M44.00 692.50H966.00" stroke-width="1.1"/>
<path d="M44.00 663.30H51M959 663.30H966.00M44.00 634.20H51M959 634.20H966.00M44.00 605.10H51M959 605.10H966.00M44.00 576.00H51M959 576.00H966.00M44.00 546.90H51M959 546.90H966.00"/>
</g>
<text x="29.00" y="697.10" letter-spacing="-0.45">0</text>
<text x="29.00" y="668.00" letter-spacing="-0.45">1</text>
<text x="29.00" y="638.90" letter-spacing="-0.45">2</text>
<text x="29.00" y="609.80" letter-spacing="-0.45">3</text>
<text x="29.00" y="580.70" letter-spacing="-0.45">4</text>
<text x="971.00" y="697.10" letter-spacing="-0.45">0</text>
<text x="971.00" y="668.00" letter-spacing="-0.45">5</text>
<text x="971.00" y="638.90" letter-spacing="-0.45">10</text>
<text x="971.00" y="609.80" letter-spacing="-0.45">15</text>
<text x="971.00" y="580.70" letter-spacing="-0.45">20</text>
<text x="19.60" y="532.60">P</text>
<text x="7.40" y="551.60" letter-spacing="0.400">[kW]</text>
<text x="967.80" y="533.00" letter-spacing="-0.200">NPSH</text>
<text x="978.30" y="552.20" letter-spacing="0.350">[m]</text>
<text x="668.80" y="560.60" letter-spacing="0.067" fill="#1a5592">P1 (motor+freq.converter)</text>
<text x="851.20" y="592.30" letter-spacing="-0.200" fill="#1a5592">P2</text>
<text x="54.00" y="718.70" letter-spacing="0.017">P1 (motor+freq.converter) = 4.327 kW</text>
<text x="54.00" y="739.80" letter-spacing="-0.192">P2 = 3.996 kW</text>
<text x="54.00" y="760.90" letter-spacing="-0.158">NPSH = 3.73 m</text>
</svg>
</body>
</html>
